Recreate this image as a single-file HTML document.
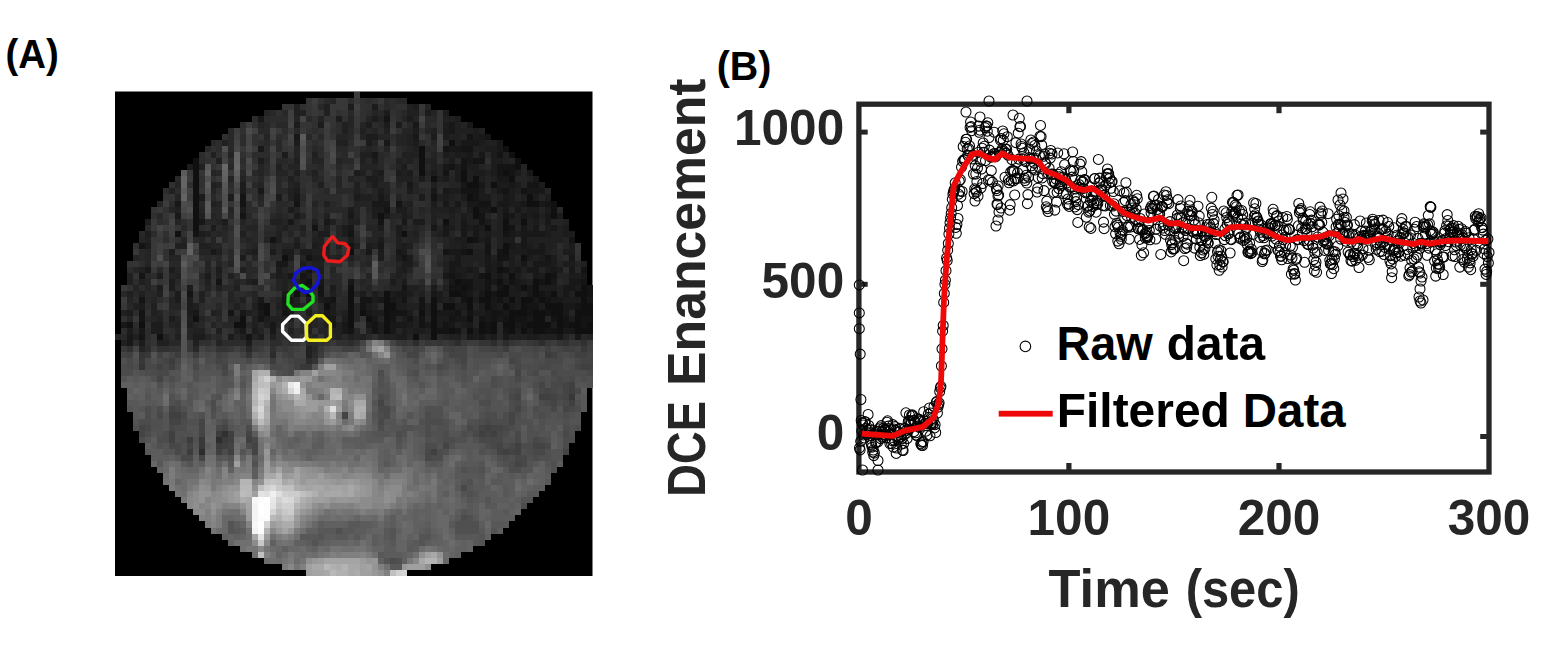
<!DOCTYPE html>
<html><head><meta charset="utf-8"><title>Figure</title>
<style>html,body{margin:0;padding:0;background:#fff;overflow:hidden}svg{display:block}text{font-family:"Liberation Sans",sans-serif;font-weight:bold}</style>
</head><body>
<svg width="1541" height="662" viewBox="0 0 1541 662">
<rect width="1541" height="662" fill="#fff"/>
<text x="5.5" y="67.6" font-size="40" fill="#000" font-family="Liberation Sans" font-weight="bold" textLength="53.3" lengthAdjust="spacingAndGlyphs">(A)</text><text x="716.7" y="79.6" font-size="40" fill="#000" font-family="Liberation Sans" font-weight="bold" textLength="54.7" lengthAdjust="spacingAndGlyphs">(B)</text>
<rect x="115.0" y="91.5" width="477.5" height="484.5" fill="#000"/>
<g transform="translate(115.0 91.5) scale(5.96875 6.05625)" shape-rendering="crispEdges">
<path fill="#101010" d="M56 8h1v1h-1zM51 9h1v1h-1zM65 9h1v1h-1zM51 10h1v1h-1zM66 10h1v1h-1zM13 11h1v1h-1zM51 11h1v1h-1zM67 11h1v1h-1zM13 12h1v1h-1zM51 12h1v1h-1zM67 12h1v1h-1zM13 13h1v1h-1zM51 13h1v1h-1zM58 13h1v1h-1zM65 13h1v1h-1zM13 14h1v1h-1zM53 14h1v1h-1zM58 14h1v1h-1zM60 14h1v1h-1zM66 14h1v1h-1zM13 15h1v1h-1zM59 15h2v1h-2zM63 15h1v1h-1zM13 16h1v1h-1zM13 17h1v1h-1zM59 17h1v1h-1zM69 17h1v1h-1zM13 18h1v1h-1zM69 18h2v1h-2zM73 18h1v1h-1zM13 19h1v1h-1zM60 19h1v1h-1zM63 19h1v1h-1zM73 19h1v1h-1zM13 20h1v1h-1zM44 20h1v1h-1zM60 20h1v1h-1zM73 20h1v1h-1zM13 21h1v1h-1zM55 21h1v1h-1zM65 21h1v1h-1zM68 21h1v1h-1zM13 22h1v1h-1zM62 22h1v1h-1zM65 22h1v1h-1zM10 23h1v1h-1zM48 23h1v1h-1zM59 24h1v1h-1zM65 25h1v1h-1zM39 26h1v1h-1zM59 26h1v1h-1zM65 26h1v1h-1zM28 27h1v1h-1zM68 27h1v1h-1zM64 29h1v1h-1zM62 30h1v1h-1zM66 30h1v1h-1zM72 30h1v1h-1zM32 31h1v1h-1zM57 31h1v1h-1zM64 31h1v1h-1zM70 31h1v1h-1zM72 31h1v1h-1zM39 32h1v1h-1zM58 32h1v1h-1zM65 32h1v1h-1zM68 32h1v1h-1zM70 32h1v1h-1zM78 32h1v1h-1zM30 33h1v1h-1zM32 33h1v1h-1zM39 33h1v1h-1zM45 33h1v1h-1zM56 33h2v1h-2zM62 33h1v1h-1zM64 33h2v1h-2zM70 33h1v1h-1zM73 33h1v1h-1zM77 33h2v1h-2zM39 34h1v1h-1zM45 34h1v1h-1zM53 34h1v1h-1zM59 34h1v1h-1zM61 34h2v1h-2zM66 34h1v1h-1zM68 34h2v1h-2zM71 34h1v1h-1zM78 34h1v1h-1zM25 35h1v1h-1zM35 35h1v1h-1zM39 35h1v1h-1zM45 35h2v1h-2zM53 35h1v1h-1zM55 35h2v1h-2zM59 35h1v1h-1zM62 35h1v1h-1zM65 35h1v1h-1zM68 35h1v1h-1zM72 35h3v1h-3zM78 35h2v1h-2zM25 36h1v1h-1zM39 36h1v1h-1zM41 36h1v1h-1zM45 36h1v1h-1zM51 36h1v1h-1zM53 36h1v1h-1zM66 36h3v1h-3zM70 36h2v1h-2zM73 36h2v1h-2zM77 36h3v1h-3zM13 37h1v1h-1zM21 37h1v1h-1zM39 37h1v1h-1zM42 37h1v1h-1zM45 37h1v1h-1zM53 37h1v1h-1zM59 37h1v1h-1zM66 37h1v1h-1zM70 37h2v1h-2zM74 37h1v1h-1zM77 37h1v1h-1zM2 38h1v1h-1zM4 38h1v1h-1zM20 38h2v1h-2zM39 38h1v1h-1zM45 38h1v1h-1zM53 38h1v1h-1zM61 38h1v1h-1zM63 38h1v1h-1zM65 38h2v1h-2zM69 38h4v1h-4zM74 38h1v1h-1zM76 38h2v1h-2zM79 38h1v1h-1zM45 39h1v1h-1zM53 39h1v1h-1zM56 39h1v1h-1zM59 39h1v1h-1zM61 39h1v1h-1zM63 39h1v1h-1zM66 39h1v1h-1zM68 39h1v1h-1zM70 39h2v1h-2zM74 39h1v1h-1zM77 39h3v1h-3zM7 40h1v1h-1zM50 40h1v1h-1zM53 40h1v1h-1z"/>
<path fill="#141414" d="M45 4h1v1h-1zM59 7h1v1h-1zM62 7h1v1h-1zM55 9h1v1h-1zM58 9h2v1h-2zM64 10h1v1h-1zM58 11h1v1h-1zM60 11h2v1h-2zM56 12h1v1h-1zM58 12h1v1h-1zM64 12h3v1h-3zM55 13h1v1h-1zM64 13h1v1h-1zM66 13h1v1h-1zM69 15h2v1h-2zM58 16h3v1h-3zM65 16h1v1h-1zM68 16h1v1h-1zM21 17h1v1h-1zM53 17h1v1h-1zM60 17h1v1h-1zM21 18h1v1h-1zM30 18h1v1h-1zM47 18h1v1h-1zM61 18h2v1h-2zM72 18h1v1h-1zM45 19h1v1h-1zM21 20h1v1h-1zM61 20h1v1h-1zM65 20h1v1h-1zM44 21h1v1h-1zM61 21h1v1h-1zM33 22h1v1h-1zM66 22h1v1h-1zM13 23h1v1h-1zM39 23h1v1h-1zM65 23h1v1h-1zM26 24h1v1h-1zM60 24h1v1h-1zM76 24h1v1h-1zM4 25h1v1h-1zM39 25h1v1h-1zM62 25h1v1h-1zM55 26h1v1h-1zM58 26h1v1h-1zM62 26h1v1h-1zM64 26h1v1h-1zM32 27h1v1h-1zM48 27h1v1h-1zM64 27h2v1h-2zM72 27h1v1h-1zM32 29h1v1h-1zM65 29h1v1h-1zM78 29h1v1h-1zM4 30h1v1h-1zM31 30h1v1h-1zM56 30h1v1h-1zM61 30h1v1h-1zM73 30h1v1h-1zM17 31h1v1h-1zM58 31h2v1h-2zM62 31h1v1h-1zM66 31h1v1h-1zM71 31h1v1h-1zM78 31h1v1h-1zM34 32h1v1h-1zM48 32h1v1h-1zM56 32h2v1h-2zM59 32h1v1h-1zM62 32h1v1h-1zM64 32h1v1h-1zM79 32h1v1h-1zM12 33h1v1h-1zM34 33h1v1h-1zM58 33h1v1h-1zM63 33h1v1h-1zM71 33h1v1h-1zM79 33h1v1h-1zM4 34h1v1h-1zM28 34h1v1h-1zM36 34h1v1h-1zM41 34h2v1h-2zM48 34h1v1h-1zM51 34h1v1h-1zM58 34h1v1h-1zM64 34h1v1h-1zM72 34h1v1h-1zM24 35h1v1h-1zM41 35h1v1h-1zM51 35h1v1h-1zM69 35h2v1h-2zM77 35h1v1h-1zM4 36h1v1h-1zM19 36h1v1h-1zM28 36h1v1h-1zM46 36h3v1h-3zM57 36h1v1h-1zM59 36h1v1h-1zM63 36h2v1h-2zM69 36h1v1h-1zM72 36h1v1h-1zM4 37h1v1h-1zM24 37h1v1h-1zM35 37h1v1h-1zM46 37h1v1h-1zM49 37h1v1h-1zM51 37h1v1h-1zM56 37h1v1h-1zM61 37h1v1h-1zM63 37h1v1h-1zM65 37h1v1h-1zM67 37h2v1h-2zM73 37h1v1h-1zM75 37h1v1h-1zM78 37h2v1h-2zM36 38h1v1h-1zM43 38h1v1h-1zM51 38h1v1h-1zM55 38h1v1h-1zM62 38h1v1h-1zM68 38h1v1h-1zM75 38h1v1h-1zM78 38h1v1h-1zM39 39h1v1h-1zM43 39h1v1h-1zM54 39h2v1h-2zM57 39h1v1h-1zM62 39h1v1h-1zM65 39h1v1h-1zM72 39h2v1h-2zM4 40h1v1h-1zM22 40h1v1h-1z"/>
<path fill="#181818" d="M24 4h1v1h-1zM50 5h1v1h-1zM56 5h1v1h-1zM59 5h1v1h-1zM56 6h1v1h-1zM30 7h1v1h-1zM50 7h1v1h-1zM61 7h1v1h-1zM45 8h1v1h-1zM58 8h3v1h-3zM64 8h1v1h-1zM24 9h1v1h-1zM56 9h2v1h-2zM64 9h1v1h-1zM43 10h1v1h-1zM59 10h1v1h-1zM61 10h1v1h-1zM59 11h1v1h-1zM55 12h1v1h-1zM69 13h1v1h-1zM64 14h2v1h-2zM70 14h1v1h-1zM49 15h1v1h-1zM58 15h1v1h-1zM61 15h1v1h-1zM66 15h1v1h-1zM24 16h1v1h-1zM53 16h1v1h-1zM55 16h1v1h-1zM64 16h1v1h-1zM69 16h3v1h-3zM30 17h1v1h-1zM44 17h1v1h-1zM65 17h1v1h-1zM10 18h1v1h-1zM43 18h3v1h-3zM55 18h1v1h-1zM57 18h1v1h-1zM59 18h2v1h-2zM64 18h2v1h-2zM68 18h1v1h-1zM71 18h1v1h-1zM61 19h2v1h-2zM65 19h1v1h-1zM67 19h1v1h-1zM10 20h1v1h-1zM39 20h1v1h-1zM66 20h1v1h-1zM68 20h1v1h-1zM70 20h1v1h-1zM72 20h1v1h-1zM14 21h1v1h-1zM29 21h1v1h-1zM35 21h1v1h-1zM48 21h1v1h-1zM58 21h1v1h-1zM72 21h1v1h-1zM39 22h1v1h-1zM53 22h1v1h-1zM55 22h1v1h-1zM58 22h1v1h-1zM60 22h1v1h-1zM68 22h1v1h-1zM70 22h1v1h-1zM73 22h1v1h-1zM55 23h1v1h-1zM58 23h1v1h-1zM60 23h1v1h-1zM66 23h1v1h-1zM68 23h4v1h-4zM62 24h1v1h-1zM68 24h1v1h-1zM44 25h1v1h-1zM66 25h1v1h-1zM68 25h1v1h-1zM71 25h1v1h-1zM16 26h1v1h-1zM42 26h1v1h-1zM47 26h1v1h-1zM56 26h2v1h-2zM69 26h3v1h-3zM57 27h1v1h-1zM62 27h1v1h-1zM76 27h1v1h-1zM27 28h2v1h-2zM56 28h2v1h-2zM62 28h1v1h-1zM64 28h1v1h-1zM68 28h1v1h-1zM70 28h3v1h-3zM5 29h1v1h-1zM56 29h1v1h-1zM59 29h1v1h-1zM62 29h1v1h-1zM67 29h1v1h-1zM69 29h2v1h-2zM73 29h1v1h-1zM76 29h1v1h-1zM29 30h1v1h-1zM55 30h1v1h-1zM57 30h1v1h-1zM64 30h1v1h-1zM70 30h1v1h-1zM78 30h1v1h-1zM31 31h1v1h-1zM34 31h1v1h-1zM39 31h1v1h-1zM56 31h1v1h-1zM63 31h1v1h-1zM67 31h1v1h-1zM73 31h1v1h-1zM76 31h2v1h-2zM32 32h1v1h-1zM67 32h1v1h-1zM69 32h1v1h-1zM75 32h2v1h-2zM28 33h1v1h-1zM47 33h2v1h-2zM53 33h1v1h-1zM59 33h1v1h-1zM61 33h1v1h-1zM69 33h1v1h-1zM72 33h1v1h-1zM75 33h1v1h-1zM24 34h1v1h-1zM29 34h1v1h-1zM35 34h1v1h-1zM44 34h1v1h-1zM46 34h1v1h-1zM63 34h1v1h-1zM70 34h1v1h-1zM73 34h2v1h-2zM79 34h1v1h-1zM28 35h1v1h-1zM63 35h1v1h-1zM66 35h1v1h-1zM75 35h2v1h-2zM13 36h1v1h-1zM21 36h1v1h-1zM24 36h1v1h-1zM29 36h1v1h-1zM35 36h1v1h-1zM42 36h1v1h-1zM54 36h3v1h-3zM62 36h1v1h-1zM65 36h1v1h-1zM75 36h1v1h-1zM36 37h1v1h-1zM43 37h1v1h-1zM57 37h2v1h-2zM62 37h1v1h-1zM64 37h1v1h-1zM69 37h1v1h-1zM1 38h1v1h-1zM26 38h1v1h-1zM38 38h1v1h-1zM42 38h1v1h-1zM46 38h3v1h-3zM52 38h1v1h-1zM56 38h1v1h-1zM59 38h1v1h-1zM67 38h1v1h-1zM4 39h1v1h-1zM21 39h1v1h-1zM26 39h1v1h-1zM38 39h1v1h-1zM46 39h1v1h-1zM69 39h1v1h-1zM75 39h2v1h-2zM2 40h1v1h-1zM59 40h1v1h-1zM61 40h1v1h-1zM65 40h1v1h-1zM74 40h1v1h-1zM77 40h1v1h-1zM2 41h1v1h-1z"/>
<path fill="#1c1c1c" d="M39 2h1v1h-1zM43 2h1v1h-1zM50 2h1v1h-1zM45 3h1v1h-1zM52 3h1v1h-1zM55 3h1v1h-1zM37 4h1v1h-1zM43 4h1v1h-1zM49 4h1v1h-1zM57 4h1v1h-1zM30 5h1v1h-1zM34 5h1v1h-1zM42 5h1v1h-1zM45 5h1v1h-1zM47 5h1v1h-1zM55 5h1v1h-1zM50 6h1v1h-1zM55 6h1v1h-1zM60 6h1v1h-1zM42 7h2v1h-2zM53 7h1v1h-1zM55 7h1v1h-1zM60 7h1v1h-1zM30 8h1v1h-1zM42 8h1v1h-1zM50 8h1v1h-1zM61 8h1v1h-1zM62 9h2v1h-2zM28 10h1v1h-1zM55 10h1v1h-1zM57 10h2v1h-2zM63 10h1v1h-1zM24 11h1v1h-1zM43 11h1v1h-1zM56 11h1v1h-1zM63 11h2v1h-2zM12 12h1v1h-1zM48 12h1v1h-1zM57 12h1v1h-1zM59 12h2v1h-2zM63 12h1v1h-1zM40 13h1v1h-1zM44 13h1v1h-1zM47 13h1v1h-1zM49 13h1v1h-1zM53 13h1v1h-1zM57 13h1v1h-1zM60 13h2v1h-2zM63 13h1v1h-1zM67 13h1v1h-1zM42 14h2v1h-2zM51 14h1v1h-1zM55 14h1v1h-1zM57 14h1v1h-1zM21 15h1v1h-1zM43 15h1v1h-1zM64 15h2v1h-2zM67 15h1v1h-1zM71 15h1v1h-1zM21 16h1v1h-1zM30 16h1v1h-1zM44 16h1v1h-1zM49 16h1v1h-1zM56 16h2v1h-2zM61 16h1v1h-1zM66 16h1v1h-1zM14 17h1v1h-1zM19 17h1v1h-1zM27 17h1v1h-1zM40 17h1v1h-1zM51 17h1v1h-1zM55 17h1v1h-1zM58 17h1v1h-1zM61 17h2v1h-2zM66 17h1v1h-1zM70 17h1v1h-1zM72 17h1v1h-1zM53 18h1v1h-1zM66 18h2v1h-2zM21 19h1v1h-1zM29 19h1v1h-1zM39 19h1v1h-1zM43 19h2v1h-2zM47 19h2v1h-2zM56 19h1v1h-1zM59 19h1v1h-1zM69 19h2v1h-2zM72 19h1v1h-1zM30 20h1v1h-1zM43 20h1v1h-1zM45 20h1v1h-1zM48 20h1v1h-1zM58 20h1v1h-1zM69 20h1v1h-1zM74 20h1v1h-1zM5 21h1v1h-1zM18 21h1v1h-1zM50 21h2v1h-2zM62 21h1v1h-1zM70 21h1v1h-1zM16 22h1v1h-1zM38 22h1v1h-1zM44 22h1v1h-1zM47 22h1v1h-1zM56 22h1v1h-1zM59 22h1v1h-1zM61 22h1v1h-1zM72 22h1v1h-1zM75 22h1v1h-1zM5 23h1v1h-1zM14 23h1v1h-1zM34 23h2v1h-2zM38 23h1v1h-1zM47 23h1v1h-1zM62 23h1v1h-1zM67 23h1v1h-1zM72 23h1v1h-1zM75 23h2v1h-2zM39 24h1v1h-1zM44 24h1v1h-1zM57 24h2v1h-2zM61 24h1v1h-1zM65 24h2v1h-2zM5 25h1v1h-1zM30 25h1v1h-1zM33 25h1v1h-1zM42 25h1v1h-1zM48 25h1v1h-1zM58 25h1v1h-1zM67 25h1v1h-1zM69 25h1v1h-1zM76 25h1v1h-1zM9 26h1v1h-1zM23 26h1v1h-1zM26 26h1v1h-1zM28 26h2v1h-2zM31 26h2v1h-2zM44 26h1v1h-1zM48 26h1v1h-1zM66 26h3v1h-3zM75 26h2v1h-2zM21 27h1v1h-1zM29 27h1v1h-1zM33 27h2v1h-2zM44 27h1v1h-1zM47 27h1v1h-1zM49 27h1v1h-1zM66 27h1v1h-1zM69 27h1v1h-1zM71 27h1v1h-1zM73 27h1v1h-1zM31 28h1v1h-1zM48 28h2v1h-2zM63 28h1v1h-1zM66 28h1v1h-1zM73 28h1v1h-1zM75 28h2v1h-2zM9 29h1v1h-1zM17 29h1v1h-1zM27 29h1v1h-1zM34 29h1v1h-1zM48 29h1v1h-1zM57 29h2v1h-2zM60 29h1v1h-1zM63 29h1v1h-1zM66 29h1v1h-1zM72 29h1v1h-1zM74 29h1v1h-1zM7 30h1v1h-1zM15 30h1v1h-1zM27 30h1v1h-1zM32 30h1v1h-1zM58 30h1v1h-1zM60 30h1v1h-1zM63 30h1v1h-1zM67 30h1v1h-1zM71 30h1v1h-1zM76 30h2v1h-2zM9 31h1v1h-1zM23 31h1v1h-1zM46 31h1v1h-1zM48 31h1v1h-1zM60 31h2v1h-2zM65 31h1v1h-1zM68 31h1v1h-1zM7 32h1v1h-1zM9 32h1v1h-1zM12 32h1v1h-1zM30 32h2v1h-2zM36 32h1v1h-1zM53 32h1v1h-1zM60 32h2v1h-2zM66 32h1v1h-1zM71 32h3v1h-3zM77 32h1v1h-1zM10 33h1v1h-1zM41 33h1v1h-1zM43 33h1v1h-1zM46 33h1v1h-1zM49 33h1v1h-1zM54 33h1v1h-1zM66 33h2v1h-2zM10 34h1v1h-1zM12 34h1v1h-1zM32 34h1v1h-1zM34 34h1v1h-1zM43 34h1v1h-1zM47 34h1v1h-1zM54 34h1v1h-1zM56 34h1v1h-1zM60 34h1v1h-1zM65 34h1v1h-1zM67 34h1v1h-1zM75 34h3v1h-3zM4 35h1v1h-1zM12 35h1v1h-1zM29 35h2v1h-2zM36 35h1v1h-1zM42 35h1v1h-1zM47 35h2v1h-2zM57 35h2v1h-2zM61 35h1v1h-1zM64 35h1v1h-1zM67 35h1v1h-1zM71 35h1v1h-1zM2 36h1v1h-1zM12 36h1v1h-1zM32 36h1v1h-1zM36 36h1v1h-1zM43 36h2v1h-2zM49 36h1v1h-1zM60 36h2v1h-2zM9 37h1v1h-1zM25 37h1v1h-1zM38 37h1v1h-1zM48 37h1v1h-1zM54 37h2v1h-2zM76 37h1v1h-1zM6 38h2v1h-2zM12 38h1v1h-1zM44 38h1v1h-1zM49 38h1v1h-1zM54 38h1v1h-1zM58 38h1v1h-1zM73 38h1v1h-1zM2 39h1v1h-1zM6 39h2v1h-2zM23 39h1v1h-1zM44 39h1v1h-1zM48 39h1v1h-1zM50 39h2v1h-2zM60 39h1v1h-1zM67 39h1v1h-1zM13 40h2v1h-2zM19 40h1v1h-1zM24 40h1v1h-1zM47 40h2v1h-2zM60 40h1v1h-1zM63 40h1v1h-1zM69 40h2v1h-2zM4 41h1v1h-1zM22 41h1v1h-1z"/>
<path fill="#202020" d="M30 2h1v1h-1zM35 2h1v1h-1zM49 2h1v1h-1zM30 3h2v1h-2zM35 3h1v1h-1zM49 3h2v1h-2zM55 4h2v1h-2zM38 5h1v1h-1zM57 5h1v1h-1zM38 6h1v1h-1zM41 6h1v1h-1zM45 6h1v1h-1zM53 6h1v1h-1zM57 6h3v1h-3zM61 6h1v1h-1zM49 7h1v1h-1zM56 7h2v1h-2zM18 8h1v1h-1zM37 8h2v1h-2zM49 8h1v1h-1zM57 8h1v1h-1zM62 8h2v1h-2zM50 9h1v1h-1zM60 9h2v1h-2zM16 10h1v1h-1zM33 10h1v1h-1zM41 10h2v1h-2zM48 10h3v1h-3zM56 10h1v1h-1zM65 10h1v1h-1zM17 11h1v1h-1zM30 11h1v1h-1zM41 11h1v1h-1zM47 11h1v1h-1zM49 11h1v1h-1zM53 11h1v1h-1zM65 11h1v1h-1zM14 12h1v1h-1zM27 12h1v1h-1zM53 12h1v1h-1zM30 13h1v1h-1zM33 13h1v1h-1zM41 13h1v1h-1zM43 13h1v1h-1zM48 13h1v1h-1zM59 13h1v1h-1zM62 13h1v1h-1zM29 14h1v1h-1zM44 14h1v1h-1zM47 14h3v1h-3zM54 14h1v1h-1zM59 14h1v1h-1zM61 14h1v1h-1zM63 14h1v1h-1zM69 14h1v1h-1zM16 15h1v1h-1zM30 15h1v1h-1zM34 15h1v1h-1zM40 15h1v1h-1zM53 15h1v1h-1zM9 16h1v1h-1zM29 16h1v1h-1zM40 16h1v1h-1zM63 16h1v1h-1zM67 16h1v1h-1zM29 17h1v1h-1zM41 17h2v1h-2zM45 17h1v1h-1zM54 17h1v1h-1zM56 17h1v1h-1zM64 17h1v1h-1zM68 17h1v1h-1zM16 18h1v1h-1zM35 18h1v1h-1zM49 18h1v1h-1zM10 19h1v1h-1zM53 19h3v1h-3zM57 19h1v1h-1zM64 19h1v1h-1zM68 19h1v1h-1zM14 20h1v1h-1zM35 20h1v1h-1zM49 20h1v1h-1zM53 20h1v1h-1zM56 20h1v1h-1zM59 20h1v1h-1zM64 20h1v1h-1zM67 20h1v1h-1zM71 20h1v1h-1zM26 21h2v1h-2zM33 21h1v1h-1zM36 21h1v1h-1zM39 21h2v1h-2zM53 21h1v1h-1zM56 21h1v1h-1zM59 21h2v1h-2zM64 21h1v1h-1zM66 21h2v1h-2zM69 21h1v1h-1zM75 21h1v1h-1zM28 22h1v1h-1zM31 22h1v1h-1zM35 22h1v1h-1zM64 22h1v1h-1zM69 22h1v1h-1zM74 22h1v1h-1zM15 23h1v1h-1zM21 23h1v1h-1zM27 23h1v1h-1zM50 23h1v1h-1zM54 23h1v1h-1zM61 23h1v1h-1zM63 23h2v1h-2zM73 23h2v1h-2zM5 24h1v1h-1zM27 24h1v1h-1zM30 24h1v1h-1zM33 24h2v1h-2zM47 24h1v1h-1zM56 24h1v1h-1zM64 24h1v1h-1zM69 24h6v1h-6zM10 25h2v1h-2zM14 25h2v1h-2zM34 25h2v1h-2zM37 25h1v1h-1zM40 25h1v1h-1zM43 25h1v1h-1zM47 25h1v1h-1zM49 25h1v1h-1zM56 25h2v1h-2zM59 25h1v1h-1zM64 25h1v1h-1zM70 25h1v1h-1zM72 25h2v1h-2zM17 26h1v1h-1zM22 26h1v1h-1zM33 26h3v1h-3zM60 26h2v1h-2zM72 26h1v1h-1zM35 27h1v1h-1zM37 27h1v1h-1zM39 27h1v1h-1zM56 27h1v1h-1zM58 27h4v1h-4zM63 27h1v1h-1zM70 27h1v1h-1zM33 28h2v1h-2zM55 28h1v1h-1zM58 28h2v1h-2zM61 28h1v1h-1zM67 28h1v1h-1zM78 28h1v1h-1zM4 29h1v1h-1zM21 29h1v1h-1zM31 29h1v1h-1zM47 29h1v1h-1zM55 29h1v1h-1zM68 29h1v1h-1zM2 30h1v1h-1zM10 30h1v1h-1zM17 30h1v1h-1zM19 30h1v1h-1zM28 30h1v1h-1zM34 30h1v1h-1zM47 30h1v1h-1zM59 30h1v1h-1zM65 30h1v1h-1zM2 31h1v1h-1zM4 31h1v1h-1zM15 31h1v1h-1zM22 31h1v1h-1zM28 31h1v1h-1zM69 31h1v1h-1zM17 32h1v1h-1zM20 32h1v1h-1zM28 32h1v1h-1zM49 32h2v1h-2zM55 32h1v1h-1zM74 32h1v1h-1zM2 33h1v1h-1zM4 33h1v1h-1zM7 33h1v1h-1zM14 33h1v1h-1zM36 33h1v1h-1zM51 33h1v1h-1zM60 33h1v1h-1zM68 33h1v1h-1zM74 33h1v1h-1zM76 33h1v1h-1zM14 34h1v1h-1zM21 34h1v1h-1zM30 34h1v1h-1zM55 34h1v1h-1zM3 35h1v1h-1zM6 35h1v1h-1zM13 35h1v1h-1zM20 35h1v1h-1zM23 35h1v1h-1zM27 35h1v1h-1zM43 35h1v1h-1zM49 35h2v1h-2zM52 35h1v1h-1zM1 36h1v1h-1zM6 36h1v1h-1zM16 36h1v1h-1zM22 36h1v1h-1zM38 36h1v1h-1zM52 36h1v1h-1zM58 36h1v1h-1zM7 37h1v1h-1zM12 37h1v1h-1zM23 37h1v1h-1zM26 37h4v1h-4zM50 37h1v1h-1zM10 38h1v1h-1zM23 38h1v1h-1zM25 38h1v1h-1zM32 38h1v1h-1zM35 38h1v1h-1zM37 38h1v1h-1zM50 38h1v1h-1zM57 38h1v1h-1zM13 39h2v1h-2zM17 39h1v1h-1zM20 39h1v1h-1zM29 39h1v1h-1zM32 39h1v1h-1zM36 39h2v1h-2zM42 39h1v1h-1zM49 39h1v1h-1zM52 39h1v1h-1zM3 40h1v1h-1zM10 40h1v1h-1zM21 40h1v1h-1zM26 40h1v1h-1zM37 40h1v1h-1zM39 40h1v1h-1zM41 40h1v1h-1zM45 40h2v1h-2zM56 40h2v1h-2zM62 40h1v1h-1zM66 40h3v1h-3zM71 40h3v1h-3zM1 41h1v1h-1zM7 41h2v1h-2zM13 41h1v1h-1zM32 42h1v1h-1zM32 43h1v1h-1z"/>
<path fill="#242424" d="M36 1h1v1h-1zM52 2h1v1h-1zM25 3h1v1h-1zM43 3h1v1h-1zM53 3h1v1h-1zM30 4h1v1h-1zM34 4h1v1h-1zM39 4h1v1h-1zM42 4h1v1h-1zM44 4h1v1h-1zM48 4h1v1h-1zM50 4h1v1h-1zM24 5h1v1h-1zM39 5h1v1h-1zM41 5h1v1h-1zM58 5h1v1h-1zM43 6h1v1h-1zM48 6h2v1h-2zM52 6h1v1h-1zM25 7h1v1h-1zM37 7h2v1h-2zM41 7h1v1h-1zM44 7h2v1h-2zM47 7h2v1h-2zM58 7h1v1h-1zM43 8h1v1h-1zM47 8h2v1h-2zM53 8h1v1h-1zM30 9h1v1h-1zM42 9h1v1h-1zM45 9h1v1h-1zM49 9h1v1h-1zM19 10h1v1h-1zM30 10h1v1h-1zM53 10h1v1h-1zM60 10h1v1h-1zM33 11h2v1h-2zM37 11h1v1h-1zM48 11h1v1h-1zM52 11h1v1h-1zM55 11h1v1h-1zM66 11h1v1h-1zM24 12h1v1h-1zM29 12h2v1h-2zM41 12h3v1h-3zM47 12h1v1h-1zM54 12h1v1h-1zM61 12h1v1h-1zM68 12h1v1h-1zM16 13h1v1h-1zM24 13h1v1h-1zM27 13h2v1h-2zM52 13h1v1h-1zM54 13h1v1h-1zM68 13h1v1h-1zM19 14h1v1h-1zM21 14h1v1h-1zM33 14h1v1h-1zM37 14h1v1h-1zM39 14h1v1h-1zM56 14h1v1h-1zM62 14h1v1h-1zM67 14h2v1h-2zM10 15h1v1h-1zM17 15h1v1h-1zM24 15h1v1h-1zM29 15h1v1h-1zM37 15h1v1h-1zM42 15h1v1h-1zM44 15h2v1h-2zM47 15h1v1h-1zM50 15h1v1h-1zM56 15h2v1h-2zM62 15h1v1h-1zM68 15h1v1h-1zM16 16h1v1h-1zM43 16h1v1h-1zM45 16h1v1h-1zM50 16h1v1h-1zM72 16h1v1h-1zM10 17h1v1h-1zM24 17h1v1h-1zM43 17h1v1h-1zM47 17h1v1h-1zM57 17h1v1h-1zM63 17h1v1h-1zM67 17h1v1h-1zM71 17h1v1h-1zM7 18h1v1h-1zM17 18h1v1h-1zM33 18h1v1h-1zM40 18h3v1h-3zM48 18h1v1h-1zM56 18h1v1h-1zM58 18h1v1h-1zM63 18h1v1h-1zM9 19h1v1h-1zM14 19h1v1h-1zM19 19h1v1h-1zM30 19h1v1h-1zM40 19h1v1h-1zM42 19h1v1h-1zM49 19h1v1h-1zM51 19h1v1h-1zM66 19h1v1h-1zM71 19h1v1h-1zM16 20h1v1h-1zM27 20h1v1h-1zM31 20h1v1h-1zM40 20h1v1h-1zM46 20h2v1h-2zM54 20h2v1h-2zM57 20h1v1h-1zM62 20h1v1h-1zM10 21h1v1h-1zM17 21h1v1h-1zM21 21h1v1h-1zM28 21h1v1h-1zM57 21h1v1h-1zM63 21h1v1h-1zM71 21h1v1h-1zM73 21h2v1h-2zM18 22h1v1h-1zM22 22h2v1h-2zM27 22h1v1h-1zM37 22h1v1h-1zM42 22h2v1h-2zM48 22h1v1h-1zM50 22h1v1h-1zM54 22h1v1h-1zM57 22h1v1h-1zM63 22h1v1h-1zM67 22h1v1h-1zM17 23h1v1h-1zM29 23h1v1h-1zM31 23h1v1h-1zM33 23h1v1h-1zM37 23h1v1h-1zM43 23h2v1h-2zM49 23h1v1h-1zM53 23h1v1h-1zM56 23h1v1h-1zM59 23h1v1h-1zM4 24h1v1h-1zM11 24h1v1h-1zM14 24h1v1h-1zM16 24h1v1h-1zM22 24h1v1h-1zM25 24h1v1h-1zM42 24h2v1h-2zM49 24h2v1h-2zM55 24h1v1h-1zM75 24h1v1h-1zM16 25h2v1h-2zM23 25h1v1h-1zM26 25h1v1h-1zM28 25h2v1h-2zM55 25h1v1h-1zM60 25h2v1h-2zM75 25h1v1h-1zM5 26h1v1h-1zM14 26h2v1h-2zM73 26h1v1h-1zM3 27h1v1h-1zM5 27h1v1h-1zM9 27h2v1h-2zM23 27h1v1h-1zM31 27h1v1h-1zM36 27h1v1h-1zM55 27h1v1h-1zM67 27h1v1h-1zM5 28h1v1h-1zM15 28h1v1h-1zM17 28h1v1h-1zM19 28h1v1h-1zM32 28h1v1h-1zM42 28h1v1h-1zM47 28h1v1h-1zM60 28h1v1h-1zM65 28h1v1h-1zM69 28h1v1h-1zM74 28h1v1h-1zM77 28h1v1h-1zM3 29h1v1h-1zM10 29h1v1h-1zM15 29h1v1h-1zM28 29h1v1h-1zM33 29h1v1h-1zM36 29h1v1h-1zM49 29h1v1h-1zM71 29h1v1h-1zM9 30h1v1h-1zM26 30h1v1h-1zM42 30h1v1h-1zM46 30h1v1h-1zM48 30h1v1h-1zM68 30h1v1h-1zM74 30h2v1h-2zM5 31h1v1h-1zM20 31h1v1h-1zM27 31h1v1h-1zM29 31h2v1h-2zM41 31h1v1h-1zM47 31h1v1h-1zM55 31h1v1h-1zM75 31h1v1h-1zM3 32h1v1h-1zM5 32h1v1h-1zM15 32h1v1h-1zM27 32h1v1h-1zM42 32h1v1h-1zM46 32h2v1h-2zM51 32h1v1h-1zM63 32h1v1h-1zM19 33h1v1h-1zM23 33h1v1h-1zM29 33h1v1h-1zM40 33h1v1h-1zM44 33h1v1h-1zM50 33h1v1h-1zM55 33h1v1h-1zM2 34h1v1h-1zM6 34h1v1h-1zM9 34h1v1h-1zM19 34h1v1h-1zM23 34h1v1h-1zM27 34h1v1h-1zM49 34h1v1h-1zM57 34h1v1h-1zM9 35h2v1h-2zM31 35h1v1h-1zM40 35h1v1h-1zM60 35h1v1h-1zM7 36h1v1h-1zM17 36h1v1h-1zM23 36h1v1h-1zM27 36h1v1h-1zM37 36h1v1h-1zM40 36h1v1h-1zM76 36h1v1h-1zM2 37h1v1h-1zM6 37h1v1h-1zM10 37h1v1h-1zM14 37h1v1h-1zM19 37h2v1h-2zM33 37h1v1h-1zM40 37h1v1h-1zM44 37h1v1h-1zM47 37h1v1h-1zM52 37h1v1h-1zM60 37h1v1h-1zM72 37h1v1h-1zM9 38h1v1h-1zM13 38h1v1h-1zM16 38h1v1h-1zM27 38h1v1h-1zM33 38h1v1h-1zM60 38h1v1h-1zM10 39h1v1h-1zM12 39h1v1h-1zM24 39h1v1h-1zM34 39h2v1h-2zM40 39h1v1h-1zM47 39h1v1h-1zM58 39h1v1h-1zM0 40h1v1h-1zM8 40h1v1h-1zM12 40h1v1h-1zM15 40h1v1h-1zM23 40h1v1h-1zM33 40h1v1h-1zM35 40h2v1h-2zM40 40h1v1h-1zM44 40h1v1h-1zM49 40h1v1h-1zM52 40h1v1h-1zM55 40h1v1h-1zM75 40h1v1h-1zM79 40h1v1h-1zM17 41h1v1h-1zM4 42h1v1h-1z"/>
<path fill="#282828" d="M35 1h1v1h-1zM45 1h1v1h-1zM47 1h2v1h-2zM34 2h1v1h-1zM45 2h1v1h-1zM26 3h1v1h-1zM28 3h1v1h-1zM39 3h1v1h-1zM44 3h1v1h-1zM48 3h1v1h-1zM32 4h1v1h-1zM52 4h2v1h-2zM25 5h1v1h-1zM27 5h2v1h-2zM44 5h1v1h-1zM49 5h1v1h-1zM52 5h1v1h-1zM19 6h1v1h-1zM24 6h2v1h-2zM30 6h1v1h-1zM39 6h1v1h-1zM42 6h1v1h-1zM19 7h1v1h-1zM32 7h1v1h-1zM34 7h1v1h-1zM39 7h1v1h-1zM16 8h1v1h-1zM19 8h1v1h-1zM25 8h1v1h-1zM27 8h1v1h-1zM51 8h1v1h-1zM55 8h1v1h-1zM15 9h1v1h-1zM19 9h1v1h-1zM27 9h1v1h-1zM33 9h1v1h-1zM37 9h2v1h-2zM41 9h1v1h-1zM43 9h1v1h-1zM48 9h1v1h-1zM52 9h2v1h-2zM38 10h1v1h-1zM44 10h1v1h-1zM62 10h1v1h-1zM25 11h1v1h-1zM27 11h2v1h-2zM38 11h2v1h-2zM42 11h1v1h-1zM44 11h1v1h-1zM50 11h1v1h-1zM57 11h1v1h-1zM19 12h1v1h-1zM34 12h1v1h-1zM37 12h1v1h-1zM44 12h1v1h-1zM50 12h1v1h-1zM52 12h1v1h-1zM62 12h1v1h-1zM17 13h1v1h-1zM21 13h1v1h-1zM23 13h1v1h-1zM32 13h1v1h-1zM56 13h1v1h-1zM10 14h1v1h-1zM24 14h1v1h-1zM27 14h1v1h-1zM30 14h1v1h-1zM34 14h1v1h-1zM40 14h2v1h-2zM50 14h1v1h-1zM52 14h1v1h-1zM23 15h1v1h-1zM27 15h1v1h-1zM54 15h2v1h-2zM27 16h2v1h-2zM35 16h1v1h-1zM37 16h3v1h-3zM41 16h1v1h-1zM51 16h1v1h-1zM62 16h1v1h-1zM16 17h1v1h-1zM31 17h1v1h-1zM49 17h1v1h-1zM14 18h1v1h-1zM24 18h1v1h-1zM27 18h2v1h-2zM36 18h1v1h-1zM54 18h1v1h-1zM16 19h2v1h-2zM27 19h1v1h-1zM33 19h1v1h-1zM35 19h4v1h-4zM52 19h1v1h-1zM58 19h1v1h-1zM74 19h1v1h-1zM7 20h1v1h-1zM17 20h1v1h-1zM19 20h1v1h-1zM22 20h1v1h-1zM26 20h1v1h-1zM28 20h1v1h-1zM33 20h1v1h-1zM38 20h1v1h-1zM42 20h1v1h-1zM51 20h1v1h-1zM15 21h2v1h-2zM23 21h1v1h-1zM30 21h1v1h-1zM38 21h1v1h-1zM42 21h2v1h-2zM46 21h1v1h-1zM5 22h1v1h-1zM11 22h1v1h-1zM21 22h1v1h-1zM29 22h2v1h-2zM46 22h1v1h-1zM49 22h1v1h-1zM51 22h1v1h-1zM71 22h1v1h-1zM4 23h1v1h-1zM16 23h1v1h-1zM18 23h1v1h-1zM23 23h1v1h-1zM25 23h2v1h-2zM13 24h1v1h-1zM18 24h1v1h-1zM21 24h1v1h-1zM23 24h1v1h-1zM37 24h2v1h-2zM40 24h1v1h-1zM48 24h1v1h-1zM54 24h1v1h-1zM63 24h1v1h-1zM22 25h1v1h-1zM27 25h1v1h-1zM31 25h1v1h-1zM63 25h1v1h-1zM4 26h1v1h-1zM19 26h1v1h-1zM21 26h1v1h-1zM27 26h1v1h-1zM37 26h1v1h-1zM41 26h1v1h-1zM74 26h1v1h-1zM4 27h1v1h-1zM15 27h1v1h-1zM17 27h1v1h-1zM19 27h1v1h-1zM40 27h1v1h-1zM42 27h1v1h-1zM74 27h1v1h-1zM9 28h2v1h-2zM22 28h1v1h-1zM29 28h1v1h-1zM39 28h1v1h-1zM41 28h1v1h-1zM50 28h1v1h-1zM54 28h1v1h-1zM7 29h1v1h-1zM22 29h2v1h-2zM29 29h1v1h-1zM77 29h1v1h-1zM5 30h1v1h-1zM14 30h1v1h-1zM22 30h1v1h-1zM36 30h2v1h-2zM69 30h1v1h-1zM10 31h1v1h-1zM21 31h1v1h-1zM36 31h2v1h-2zM42 31h1v1h-1zM51 31h1v1h-1zM53 31h1v1h-1zM74 31h1v1h-1zM18 32h2v1h-2zM29 32h1v1h-1zM33 32h1v1h-1zM37 32h1v1h-1zM41 32h1v1h-1zM45 32h1v1h-1zM1 33h1v1h-1zM3 33h1v1h-1zM5 33h2v1h-2zM22 33h1v1h-1zM31 33h1v1h-1zM37 33h1v1h-1zM42 33h1v1h-1zM5 34h1v1h-1zM20 34h1v1h-1zM26 34h1v1h-1zM38 34h1v1h-1zM50 34h1v1h-1zM2 35h1v1h-1zM17 35h1v1h-1zM19 35h1v1h-1zM21 35h1v1h-1zM32 35h1v1h-1zM34 35h1v1h-1zM37 35h2v1h-2zM54 35h1v1h-1zM9 36h1v1h-1zM34 36h1v1h-1zM50 36h1v1h-1zM5 37h1v1h-1zM17 37h1v1h-1zM32 37h1v1h-1zM14 38h1v1h-1zM18 38h2v1h-2zM22 38h1v1h-1zM24 38h1v1h-1zM29 38h1v1h-1zM34 38h1v1h-1zM64 38h1v1h-1zM3 39h1v1h-1zM31 39h1v1h-1zM64 39h1v1h-1zM1 40h1v1h-1zM17 40h1v1h-1zM20 40h1v1h-1zM29 40h1v1h-1zM32 40h1v1h-1zM38 40h1v1h-1zM42 40h1v1h-1zM51 40h1v1h-1zM54 40h1v1h-1zM58 40h1v1h-1zM64 40h1v1h-1zM78 40h1v1h-1zM9 41h2v1h-2zM32 41h1v1h-1zM13 42h1v1h-1zM22 42h1v1h-1zM33 42h1v1h-1z"/>
<path fill="#2c2c2c" d="M39 1h1v1h-1zM42 1h1v1h-1zM46 1h1v1h-1zM46 2h1v1h-1zM42 3h1v1h-1zM47 3h1v1h-1zM23 4h1v1h-1zM25 4h4v1h-4zM47 4h1v1h-1zM21 5h1v1h-1zM37 5h1v1h-1zM43 5h1v1h-1zM53 5h1v1h-1zM28 6h1v1h-1zM33 6h1v1h-1zM37 6h1v1h-1zM44 6h1v1h-1zM21 7h1v1h-1zM27 7h1v1h-1zM46 7h1v1h-1zM17 8h1v1h-1zM21 8h1v1h-1zM24 8h1v1h-1zM33 8h1v1h-1zM39 8h1v1h-1zM17 9h1v1h-1zM25 9h1v1h-1zM34 9h1v1h-1zM47 9h1v1h-1zM14 10h1v1h-1zM23 10h3v1h-3zM34 10h1v1h-1zM37 10h1v1h-1zM45 10h1v1h-1zM47 10h1v1h-1zM52 10h1v1h-1zM54 10h1v1h-1zM14 11h1v1h-1zM19 11h1v1h-1zM21 11h1v1h-1zM29 11h1v1h-1zM25 12h1v1h-1zM28 12h1v1h-1zM32 12h2v1h-2zM39 12h1v1h-1zM46 12h1v1h-1zM49 12h1v1h-1zM25 13h1v1h-1zM29 13h1v1h-1zM34 13h1v1h-1zM37 13h1v1h-1zM42 13h1v1h-1zM50 13h1v1h-1zM28 14h1v1h-1zM19 15h1v1h-1zM33 15h1v1h-1zM41 15h1v1h-1zM48 15h1v1h-1zM8 16h1v1h-1zM10 16h1v1h-1zM31 16h1v1h-1zM34 16h1v1h-1zM42 16h1v1h-1zM47 16h2v1h-2zM52 16h1v1h-1zM54 16h1v1h-1zM33 17h5v1h-5zM39 17h1v1h-1zM48 17h1v1h-1zM50 17h1v1h-1zM52 17h1v1h-1zM9 18h1v1h-1zM22 18h1v1h-1zM29 18h1v1h-1zM31 18h1v1h-1zM34 18h1v1h-1zM37 18h1v1h-1zM52 18h1v1h-1zM22 19h2v1h-2zM28 19h1v1h-1zM46 19h1v1h-1zM50 19h1v1h-1zM29 20h1v1h-1zM34 20h1v1h-1zM50 20h1v1h-1zM52 20h1v1h-1zM63 20h1v1h-1zM7 21h1v1h-1zM11 21h1v1h-1zM22 21h1v1h-1zM37 21h1v1h-1zM47 21h1v1h-1zM49 21h1v1h-1zM52 21h1v1h-1zM54 21h1v1h-1zM14 22h1v1h-1zM17 22h1v1h-1zM19 22h1v1h-1zM25 22h2v1h-2zM34 22h1v1h-1zM6 23h1v1h-1zM22 23h1v1h-1zM28 23h1v1h-1zM40 23h1v1h-1zM46 23h1v1h-1zM51 23h1v1h-1zM57 23h1v1h-1zM8 24h1v1h-1zM29 24h1v1h-1zM45 24h2v1h-2zM53 24h1v1h-1zM53 25h1v1h-1zM74 25h1v1h-1zM30 26h1v1h-1zM49 26h1v1h-1zM63 26h1v1h-1zM14 27h1v1h-1zM16 27h1v1h-1zM26 27h2v1h-2zM38 27h1v1h-1zM41 27h1v1h-1zM46 27h1v1h-1zM54 27h1v1h-1zM75 27h1v1h-1zM4 28h1v1h-1zM18 28h1v1h-1zM36 28h2v1h-2zM45 28h2v1h-2zM2 29h1v1h-1zM41 29h1v1h-1zM44 29h1v1h-1zM61 29h1v1h-1zM75 29h1v1h-1zM6 30h1v1h-1zM20 30h1v1h-1zM23 30h1v1h-1zM49 30h1v1h-1zM3 31h1v1h-1zM14 31h1v1h-1zM19 31h1v1h-1zM35 31h1v1h-1zM40 31h1v1h-1zM44 31h2v1h-2zM4 32h1v1h-1zM6 32h1v1h-1zM10 32h1v1h-1zM24 32h1v1h-1zM26 32h1v1h-1zM44 32h1v1h-1zM54 32h1v1h-1zM9 33h1v1h-1zM15 33h1v1h-1zM17 33h1v1h-1zM20 33h2v1h-2zM35 33h1v1h-1zM38 33h1v1h-1zM52 33h1v1h-1zM3 34h1v1h-1zM7 34h1v1h-1zM37 34h1v1h-1zM52 34h1v1h-1zM5 35h1v1h-1zM14 35h1v1h-1zM26 35h1v1h-1zM44 35h1v1h-1zM3 36h1v1h-1zM10 36h1v1h-1zM14 36h1v1h-1zM20 36h1v1h-1zM26 36h1v1h-1zM15 37h1v1h-1zM31 37h1v1h-1zM34 37h1v1h-1zM37 37h1v1h-1zM3 38h1v1h-1zM8 38h1v1h-1zM17 38h1v1h-1zM31 38h1v1h-1zM1 39h1v1h-1zM5 39h1v1h-1zM9 39h1v1h-1zM27 39h1v1h-1zM30 39h1v1h-1zM5 40h1v1h-1zM9 40h1v1h-1zM16 40h1v1h-1zM27 40h1v1h-1zM30 40h1v1h-1zM76 40h1v1h-1zM3 41h1v1h-1zM18 41h4v1h-4zM26 41h2v1h-2zM33 41h1v1h-1zM39 41h1v1h-1zM50 41h1v1h-1zM57 41h1v1h-1zM63 41h1v1h-1zM65 41h1v1h-1zM71 41h1v1h-1zM5 42h1v1h-1zM26 43h1v1h-1zM33 43h1v1h-1zM32 44h1v1h-1zM17 57h1v1h-1zM14 59h1v1h-1z"/>
<path fill="#303030" d="M34 1h1v1h-1zM41 1h1v1h-1zM43 1h1v1h-1zM31 2h1v1h-1zM41 2h2v1h-2zM44 2h1v1h-1zM47 2h2v1h-2zM27 3h1v1h-1zM37 3h1v1h-1zM41 3h1v1h-1zM46 3h1v1h-1zM33 4h1v1h-1zM38 4h1v1h-1zM41 4h1v1h-1zM23 5h1v1h-1zM26 5h1v1h-1zM33 5h1v1h-1zM48 5h1v1h-1zM21 6h1v1h-1zM32 6h1v1h-1zM34 6h1v1h-1zM36 6h1v1h-1zM47 6h1v1h-1zM51 6h1v1h-1zM18 7h1v1h-1zM23 7h1v1h-1zM28 7h1v1h-1zM52 7h1v1h-1zM23 8h1v1h-1zM34 8h1v1h-1zM46 8h1v1h-1zM52 8h1v1h-1zM16 9h1v1h-1zM32 9h1v1h-1zM39 9h2v1h-2zM44 9h1v1h-1zM17 10h1v1h-1zM21 10h1v1h-1zM40 10h1v1h-1zM15 11h1v1h-1zM23 11h1v1h-1zM32 11h1v1h-1zM45 11h2v1h-2zM54 11h1v1h-1zM62 11h1v1h-1zM16 12h1v1h-1zM21 12h1v1h-1zM38 12h1v1h-1zM31 13h1v1h-1zM14 14h1v1h-1zM16 14h1v1h-1zM23 14h1v1h-1zM31 14h2v1h-2zM9 15h1v1h-1zM12 15h1v1h-1zM14 15h1v1h-1zM31 15h1v1h-1zM39 15h1v1h-1zM51 15h2v1h-2zM17 16h1v1h-1zM19 16h1v1h-1zM22 16h2v1h-2zM33 16h1v1h-1zM46 16h1v1h-1zM23 17h1v1h-1zM28 17h1v1h-1zM39 18h1v1h-1zM50 18h2v1h-2zM8 19h1v1h-1zM26 19h1v1h-1zM31 19h1v1h-1zM34 19h1v1h-1zM6 20h1v1h-1zM8 21h1v1h-1zM31 21h1v1h-1zM34 21h1v1h-1zM15 22h1v1h-1zM36 22h1v1h-1zM52 22h1v1h-1zM8 23h1v1h-1zM11 23h1v1h-1zM19 23h1v1h-1zM30 23h1v1h-1zM32 23h1v1h-1zM10 24h1v1h-1zM15 24h1v1h-1zM19 24h1v1h-1zM28 24h1v1h-1zM31 24h2v1h-2zM51 24h1v1h-1zM3 25h1v1h-1zM19 25h1v1h-1zM21 25h1v1h-1zM36 25h1v1h-1zM46 25h1v1h-1zM50 25h1v1h-1zM8 26h1v1h-1zM18 26h1v1h-1zM36 26h1v1h-1zM40 26h1v1h-1zM46 26h1v1h-1zM53 26h2v1h-2zM8 27h1v1h-1zM50 27h1v1h-1zM77 27h1v1h-1zM21 28h1v1h-1zM25 28h1v1h-1zM44 28h1v1h-1zM53 28h1v1h-1zM16 29h1v1h-1zM18 29h1v1h-1zM25 29h1v1h-1zM46 29h1v1h-1zM16 30h1v1h-1zM30 30h1v1h-1zM33 30h1v1h-1zM53 30h2v1h-2zM26 31h1v1h-1zM33 31h1v1h-1zM49 31h2v1h-2zM2 32h1v1h-1zM14 32h1v1h-1zM16 32h1v1h-1zM23 32h1v1h-1zM35 32h1v1h-1zM40 32h1v1h-1zM43 32h1v1h-1zM27 33h1v1h-1zM33 33h1v1h-1zM16 34h2v1h-2zM25 34h1v1h-1zM33 34h1v1h-1zM15 35h2v1h-2zM22 35h1v1h-1zM5 36h1v1h-1zM8 36h1v1h-1zM30 36h2v1h-2zM33 36h1v1h-1zM1 37h1v1h-1zM8 37h1v1h-1zM16 37h1v1h-1zM5 38h1v1h-1zM28 38h1v1h-1zM8 39h1v1h-1zM15 39h1v1h-1zM19 39h1v1h-1zM22 39h1v1h-1zM25 39h1v1h-1zM28 40h1v1h-1zM43 40h1v1h-1zM5 41h1v1h-1zM14 41h2v1h-2zM29 41h1v1h-1zM34 41h1v1h-1zM37 41h2v1h-2zM75 41h1v1h-1zM78 41h1v1h-1zM2 42h1v1h-1zM7 42h2v1h-2zM26 42h1v1h-1zM18 56h1v1h-1z"/>
<path fill="#343434" d="M32 1h1v1h-1zM28 2h2v1h-2zM32 2h1v1h-1zM32 3h1v1h-1zM34 3h1v1h-1zM38 3h1v1h-1zM51 3h1v1h-1zM54 3h1v1h-1zM35 4h2v1h-2zM46 4h1v1h-1zM54 4h1v1h-1zM31 5h2v1h-2zM36 5h1v1h-1zM54 5h1v1h-1zM40 6h1v1h-1zM54 6h1v1h-1zM24 7h1v1h-1zM33 7h1v1h-1zM36 7h1v1h-1zM26 8h1v1h-1zM32 8h1v1h-1zM28 9h1v1h-1zM15 10h1v1h-1zM27 10h1v1h-1zM29 10h1v1h-1zM32 10h1v1h-1zM46 10h1v1h-1zM16 11h1v1h-1zM45 12h1v1h-1zM14 13h1v1h-1zM38 13h1v1h-1zM22 14h1v1h-1zM36 14h1v1h-1zM38 14h1v1h-1zM28 15h1v1h-1zM32 15h1v1h-1zM35 15h1v1h-1zM38 15h1v1h-1zM46 15h1v1h-1zM14 16h1v1h-1zM32 16h1v1h-1zM8 17h2v1h-2zM17 17h1v1h-1zM38 17h1v1h-1zM19 18h1v1h-1zM26 18h1v1h-1zM38 18h1v1h-1zM6 19h1v1h-1zM41 19h1v1h-1zM8 20h1v1h-1zM23 20h1v1h-1zM37 20h1v1h-1zM41 20h1v1h-1zM12 21h1v1h-1zM19 21h1v1h-1zM25 21h1v1h-1zM32 21h1v1h-1zM41 21h1v1h-1zM10 22h1v1h-1zM12 22h1v1h-1zM32 22h1v1h-1zM40 22h1v1h-1zM42 23h1v1h-1zM45 23h1v1h-1zM67 24h1v1h-1zM18 25h1v1h-1zM32 25h1v1h-1zM38 25h1v1h-1zM45 25h1v1h-1zM77 25h1v1h-1zM38 26h1v1h-1zM50 26h1v1h-1zM77 26h1v1h-1zM22 27h1v1h-1zM45 27h1v1h-1zM53 27h1v1h-1zM2 28h2v1h-2zM23 28h1v1h-1zM26 28h1v1h-1zM35 28h1v1h-1zM40 28h1v1h-1zM14 29h1v1h-1zM42 29h1v1h-1zM45 29h1v1h-1zM53 29h2v1h-2zM3 30h1v1h-1zM18 30h1v1h-1zM39 30h1v1h-1zM41 30h1v1h-1zM44 30h1v1h-1zM7 31h1v1h-1zM16 31h1v1h-1zM25 31h1v1h-1zM38 32h1v1h-1zM52 32h1v1h-1zM13 33h1v1h-1zM24 33h3v1h-3zM8 34h1v1h-1zM13 34h1v1h-1zM15 34h1v1h-1zM18 34h1v1h-1zM22 34h1v1h-1zM31 34h1v1h-1zM40 34h1v1h-1zM18 35h1v1h-1zM33 35h1v1h-1zM22 37h1v1h-1zM41 37h1v1h-1zM15 38h1v1h-1zM18 39h1v1h-1zM33 39h1v1h-1zM6 40h1v1h-1zM18 40h1v1h-1zM25 40h1v1h-1zM31 40h1v1h-1zM34 40h1v1h-1zM6 41h1v1h-1zM23 41h2v1h-2zM28 41h1v1h-1zM30 41h1v1h-1zM35 41h1v1h-1zM40 41h1v1h-1zM48 41h1v1h-1zM52 41h1v1h-1zM54 41h1v1h-1zM56 41h1v1h-1zM61 41h2v1h-2zM66 41h1v1h-1zM70 41h1v1h-1zM74 41h1v1h-1zM9 42h2v1h-2zM17 42h2v1h-2zM4 43h1v1h-1zM22 43h1v1h-1zM33 44h1v1h-1zM4 45h1v1h-1z"/>
<path fill="#383838" d="M37 1h2v1h-2zM40 1h1v1h-1zM44 1h1v1h-1zM33 2h1v1h-1zM36 2h3v1h-3zM51 2h1v1h-1zM33 3h1v1h-1zM36 3h1v1h-1zM40 4h1v1h-1zM40 5h1v1h-1zM46 5h1v1h-1zM27 6h1v1h-1zM29 6h1v1h-1zM31 6h1v1h-1zM51 7h1v1h-1zM28 8h1v1h-1zM21 9h1v1h-1zM29 9h1v1h-1zM35 10h1v1h-1zM17 12h1v1h-1zM23 12h1v1h-1zM36 12h1v1h-1zM12 13h1v1h-1zM19 13h1v1h-1zM26 13h1v1h-1zM35 13h1v1h-1zM39 13h1v1h-1zM45 13h2v1h-2zM17 14h1v1h-1zM25 14h1v1h-1zM35 14h1v1h-1zM45 14h1v1h-1zM36 15h1v1h-1zM46 17h1v1h-1zM7 19h1v1h-1zM25 19h1v1h-1zM32 19h1v1h-1zM32 20h1v1h-1zM36 20h1v1h-1zM6 21h1v1h-1zM45 21h1v1h-1zM6 22h1v1h-1zM45 22h1v1h-1zM24 23h1v1h-1zM36 23h1v1h-1zM52 23h1v1h-1zM6 24h2v1h-2zM9 24h1v1h-1zM24 24h1v1h-1zM35 24h2v1h-2zM41 24h1v1h-1zM6 25h1v1h-1zM25 25h1v1h-1zM51 25h1v1h-1zM54 25h1v1h-1zM3 26h1v1h-1zM6 26h1v1h-1zM10 26h1v1h-1zM43 26h1v1h-1zM45 26h1v1h-1zM6 27h1v1h-1zM18 27h1v1h-1zM13 28h1v1h-1zM16 28h1v1h-1zM6 29h1v1h-1zM8 29h1v1h-1zM19 29h1v1h-1zM35 29h1v1h-1zM37 29h1v1h-1zM39 29h1v1h-1zM50 29h2v1h-2zM8 30h1v1h-1zM35 30h1v1h-1zM38 30h1v1h-1zM45 30h1v1h-1zM50 30h2v1h-2zM8 31h1v1h-1zM18 31h1v1h-1zM38 31h1v1h-1zM1 32h1v1h-1zM21 32h2v1h-2zM18 33h1v1h-1zM1 35h1v1h-1zM7 35h1v1h-1zM18 36h1v1h-1zM3 37h1v1h-1zM18 37h1v1h-1zM30 38h1v1h-1zM40 38h1v1h-1zM16 39h1v1h-1zM28 39h1v1h-1zM41 39h1v1h-1zM12 41h1v1h-1zM16 41h1v1h-1zM25 41h1v1h-1zM36 41h1v1h-1zM47 41h1v1h-1zM49 41h1v1h-1zM53 41h1v1h-1zM55 41h1v1h-1zM58 41h1v1h-1zM64 41h1v1h-1zM67 41h1v1h-1zM69 41h1v1h-1zM72 41h1v1h-1zM76 41h2v1h-2zM1 42h1v1h-1zM12 42h1v1h-1zM19 42h1v1h-1zM21 42h1v1h-1zM23 42h1v1h-1zM28 42h1v1h-1zM34 42h1v1h-1zM78 42h1v1h-1zM5 43h1v1h-1zM4 44h1v1h-1zM31 45h2v1h-2zM76 50h1v1h-1zM14 57h1v1h-1zM14 58h1v1h-1z"/>
<path fill="#3c3c3c" d="M40 0h1v1h-1zM33 1h1v1h-1zM40 3h1v1h-1zM22 5h1v1h-1zM51 5h1v1h-1zM20 6h1v1h-1zM35 6h1v1h-1zM46 6h1v1h-1zM35 7h1v1h-1zM40 7h1v1h-1zM41 8h1v1h-1zM44 8h1v1h-1zM23 9h1v1h-1zM46 9h1v1h-1zM22 10h1v1h-1zM26 10h1v1h-1zM35 11h1v1h-1zM40 11h1v1h-1zM26 12h1v1h-1zM35 12h1v1h-1zM12 14h1v1h-1zM25 16h1v1h-1zM12 17h1v1h-1zM32 17h1v1h-1zM8 18h1v1h-1zM23 18h1v1h-1zM32 18h1v1h-1zM46 18h1v1h-1zM9 20h1v1h-1zM25 20h1v1h-1zM8 22h1v1h-1zM24 22h1v1h-1zM7 23h1v1h-1zM17 24h1v1h-1zM52 24h1v1h-1zM8 25h1v1h-1zM11 26h1v1h-1zM13 26h1v1h-1zM25 26h1v1h-1zM25 27h1v1h-1zM7 28h1v1h-1zM14 28h1v1h-1zM38 28h1v1h-1zM51 28h1v1h-1zM13 29h1v1h-1zM26 29h1v1h-1zM38 29h1v1h-1zM12 31h2v1h-2zM54 31h1v1h-1zM16 33h1v1h-1zM1 34h1v1h-1zM8 35h1v1h-1zM15 36h1v1h-1zM30 37h1v1h-1zM41 38h1v1h-1zM31 41h1v1h-1zM51 41h1v1h-1zM59 41h2v1h-2zM68 41h1v1h-1zM73 41h1v1h-1zM79 41h1v1h-1zM6 42h1v1h-1zM15 42h1v1h-1zM24 42h1v1h-1zM27 42h1v1h-1zM29 42h1v1h-1zM65 42h1v1h-1zM10 43h1v1h-1zM13 43h1v1h-1zM29 43h1v1h-1zM34 43h1v1h-1zM72 43h1v1h-1zM9 44h1v1h-1zM26 44h1v1h-1zM17 56h1v1h-1zM12 57h1v1h-1zM18 57h1v1h-1zM17 58h1v1h-1zM12 59h1v1h-1z"/>
<path fill="#404040" d="M40 2h1v1h-1zM29 3h1v1h-1zM29 4h1v1h-1zM35 5h1v1h-1zM23 6h1v1h-1zM20 7h1v1h-1zM26 7h1v1h-1zM29 8h1v1h-1zM35 8h1v1h-1zM40 8h1v1h-1zM35 9h1v1h-1zM54 9h1v1h-1zM18 10h1v1h-1zM39 10h1v1h-1zM26 11h1v1h-1zM36 13h1v1h-1zM46 14h1v1h-1zM22 15h1v1h-1zM25 15h1v1h-1zM12 16h1v1h-1zM36 16h1v1h-1zM22 17h1v1h-1zM24 19h1v1h-1zM11 20h1v1h-1zM24 21h1v1h-1zM9 22h1v1h-1zM41 22h1v1h-1zM9 23h1v1h-1zM7 25h1v1h-1zM9 25h1v1h-1zM41 25h1v1h-1zM7 26h1v1h-1zM51 27h1v1h-1zM6 28h1v1h-1zM24 28h1v1h-1zM12 29h1v1h-1zM40 29h1v1h-1zM52 30h1v1h-1zM6 31h1v1h-1zM43 31h1v1h-1zM8 32h1v1h-1zM11 32h1v1h-1zM13 32h1v1h-1zM25 32h1v1h-1zM16 42h1v1h-1zM20 42h1v1h-1zM30 42h1v1h-1zM38 42h2v1h-2zM56 42h1v1h-1zM63 42h1v1h-1zM72 42h1v1h-1zM75 42h2v1h-2zM79 42h1v1h-1zM2 43h1v1h-1zM7 43h1v1h-1zM17 43h1v1h-1zM28 43h1v1h-1zM73 43h1v1h-1zM77 43h2v1h-2zM30 44h2v1h-2zM7 45h1v1h-1zM9 45h1v1h-1zM30 45h1v1h-1zM78 45h2v1h-2zM76 48h1v1h-1zM76 49h1v1h-1zM71 50h2v1h-2zM76 51h1v1h-1zM9 53h2v1h-2zM62 55h1v1h-1zM9 56h1v1h-1zM19 56h1v1h-1zM61 56h1v1h-1zM63 56h1v1h-1zM9 57h1v1h-1zM19 57h1v1h-1zM22 57h1v1h-1zM18 58h1v1h-1zM67 58h1v1h-1zM17 59h1v1h-1zM19 59h1v1h-1zM53 59h1v1h-1zM65 59h1v1h-1zM67 59h1v1h-1z"/>
<path fill="#444444" d="M31 4h1v1h-1zM51 4h1v1h-1zM29 5h1v1h-1zM26 6h1v1h-1zM22 7h1v1h-1zM29 7h1v1h-1zM54 7h1v1h-1zM20 8h1v1h-1zM22 8h1v1h-1zM36 8h1v1h-1zM54 8h1v1h-1zM26 9h1v1h-1zM18 11h1v1h-1zM22 12h1v1h-1zM40 12h1v1h-1zM20 16h1v1h-1zM25 17h1v1h-1zM12 20h1v1h-1zM24 20h1v1h-1zM9 21h1v1h-1zM20 21h1v1h-1zM7 22h1v1h-1zM12 23h1v1h-1zM41 23h1v1h-1zM12 24h1v1h-1zM13 25h1v1h-1zM52 25h1v1h-1zM30 27h1v1h-1zM43 27h1v1h-1zM8 28h1v1h-1zM24 29h1v1h-1zM30 29h1v1h-1zM12 30h1v1h-1zM40 30h1v1h-1zM8 33h1v1h-1zM11 35h1v1h-1zM41 41h1v1h-1zM46 41h1v1h-1zM3 42h1v1h-1zM14 42h1v1h-1zM25 42h1v1h-1zM31 42h1v1h-1zM35 42h1v1h-1zM40 42h1v1h-1zM48 42h1v1h-1zM50 42h1v1h-1zM55 42h1v1h-1zM57 42h2v1h-2zM61 42h2v1h-2zM64 42h1v1h-1zM70 42h1v1h-1zM74 42h1v1h-1zM77 42h1v1h-1zM1 43h1v1h-1zM9 43h1v1h-1zM18 43h1v1h-1zM21 43h1v1h-1zM24 43h1v1h-1zM30 43h2v1h-2zM49 43h2v1h-2zM56 43h3v1h-3zM79 43h1v1h-1zM8 44h1v1h-1zM17 44h1v1h-1zM29 44h1v1h-1zM58 44h1v1h-1zM66 44h1v1h-1zM78 44h2v1h-2zM18 45h1v1h-1zM77 45h1v1h-1zM67 46h1v1h-1zM7 47h1v1h-1zM71 48h1v1h-1zM75 48h1v1h-1zM72 49h1v1h-1zM75 49h1v1h-1zM67 50h1v1h-1zM73 50h1v1h-1zM75 50h1v1h-1zM44 51h1v1h-1zM73 51h1v1h-1zM9 52h1v1h-1zM67 52h1v1h-1zM75 52h1v1h-1zM38 53h1v1h-1zM66 53h1v1h-1zM9 54h2v1h-2zM14 54h1v1h-1zM66 54h1v1h-1zM4 55h1v1h-1zM14 55h1v1h-1zM18 55h1v1h-1zM61 55h1v1h-1zM63 55h2v1h-2zM4 56h1v1h-1zM14 56h1v1h-1zM22 56h1v1h-1zM62 56h1v1h-1zM12 58h1v1h-1zM19 58h1v1h-1zM23 58h1v1h-1zM55 58h1v1h-1zM64 58h1v1h-1zM70 58h2v1h-2zM23 59h1v1h-1zM64 59h1v1h-1zM66 59h1v1h-1zM75 59h1v1h-1zM14 60h1v1h-1zM67 61h1v1h-1z"/>
<path fill="#484848" d="M20 9h1v1h-1zM22 9h1v1h-1zM36 9h1v1h-1zM36 11h1v1h-1zM26 14h1v1h-1zM26 17h1v1h-1zM12 18h1v1h-1zM20 18h1v1h-1zM25 18h1v1h-1zM11 19h1v1h-1zM18 20h1v1h-1zM20 24h1v1h-1zM20 25h1v1h-1zM24 25h1v1h-1zM12 27h1v1h-1zM12 28h1v1h-1zM30 28h1v1h-1zM13 30h1v1h-1zM24 30h1v1h-1zM11 31h1v1h-1zM24 31h1v1h-1zM11 34h1v1h-1zM36 42h2v1h-2zM49 42h1v1h-1zM51 42h1v1h-1zM68 42h2v1h-2zM71 42h1v1h-1zM73 42h1v1h-1zM15 43h1v1h-1zM23 43h1v1h-1zM25 43h1v1h-1zM27 43h1v1h-1zM64 43h1v1h-1zM66 43h2v1h-2zM70 43h1v1h-1zM74 43h1v1h-1zM76 43h1v1h-1zM2 44h1v1h-1zM5 44h1v1h-1zM7 44h1v1h-1zM10 44h1v1h-1zM18 44h1v1h-1zM22 44h1v1h-1zM28 44h1v1h-1zM57 44h1v1h-1zM67 44h1v1h-1zM72 44h3v1h-3zM77 44h1v1h-1zM2 45h1v1h-1zM5 45h2v1h-2zM8 45h1v1h-1zM13 45h1v1h-1zM26 45h2v1h-2zM29 45h1v1h-1zM54 45h1v1h-1zM58 45h1v1h-1zM67 45h1v1h-1zM71 45h2v1h-2zM7 46h2v1h-2zM18 46h1v1h-1zM29 46h1v1h-1zM70 46h1v1h-1zM73 46h1v1h-1zM79 46h1v1h-1zM67 47h1v1h-1zM74 47h1v1h-1zM76 47h1v1h-1zM73 48h2v1h-2zM67 49h1v1h-1zM71 49h1v1h-1zM73 49h1v1h-1zM77 49h1v1h-1zM66 50h1v1h-1zM74 50h1v1h-1zM67 51h1v1h-1zM72 51h1v1h-1zM75 51h1v1h-1zM10 52h1v1h-1zM44 52h2v1h-2zM73 52h1v1h-1zM76 52h1v1h-1zM7 53h1v1h-1zM11 53h1v1h-1zM45 53h1v1h-1zM44 54h1v1h-1zM62 54h1v1h-1zM5 55h1v1h-1zM9 55h1v1h-1zM17 55h1v1h-1zM59 55h1v1h-1zM65 55h1v1h-1zM60 56h1v1h-1zM64 56h1v1h-1zM67 56h1v1h-1zM75 56h1v1h-1zM23 57h1v1h-1zM61 57h4v1h-4zM67 57h1v1h-1zM70 57h1v1h-1zM9 58h2v1h-2zM63 58h1v1h-1zM66 58h1v1h-1zM72 58h1v1h-1zM10 59h1v1h-1zM52 59h1v1h-1zM70 59h2v1h-2zM11 60h2v1h-2zM52 60h1v1h-1zM67 60h2v1h-2zM68 61h1v1h-1zM58 65h1v1h-1z"/>
<path fill="#4c4c4c" d="M22 6h1v1h-1zM31 9h1v1h-1zM36 10h1v1h-1zM22 11h1v1h-1zM22 13h1v1h-1zM20 15h1v1h-1zM26 15h1v1h-1zM15 17h1v1h-1zM11 18h1v1h-1zM20 20h1v1h-1zM24 26h1v1h-1zM51 26h2v1h-2zM13 27h1v1h-1zM24 27h1v1h-1zM21 30h1v1h-1zM25 30h1v1h-1zM52 31h1v1h-1zM11 33h1v1h-1zM60 42h1v1h-1zM66 42h1v1h-1zM8 43h1v1h-1zM12 43h1v1h-1zM14 43h1v1h-1zM16 43h1v1h-1zM19 43h2v1h-2zM55 43h1v1h-1zM60 43h4v1h-4zM68 43h2v1h-2zM75 43h1v1h-1zM13 44h1v1h-1zM15 44h2v1h-2zM27 44h1v1h-1zM50 44h1v1h-1zM55 44h1v1h-1zM70 44h2v1h-2zM1 45h1v1h-1zM3 45h1v1h-1zM10 45h1v1h-1zM17 45h1v1h-1zM28 45h1v1h-1zM55 45h1v1h-1zM68 45h3v1h-3zM73 45h2v1h-2zM76 45h1v1h-1zM1 46h2v1h-2zM5 46h2v1h-2zM28 46h1v1h-1zM44 46h1v1h-1zM50 46h1v1h-1zM69 46h1v1h-1zM74 46h5v1h-5zM9 47h1v1h-1zM63 47h1v1h-1zM71 47h1v1h-1zM73 47h1v1h-1zM75 47h1v1h-1zM78 47h1v1h-1zM63 48h1v1h-1zM70 48h1v1h-1zM66 49h1v1h-1zM74 49h1v1h-1zM44 50h1v1h-1zM10 51h1v1h-1zM16 51h1v1h-1zM61 51h2v1h-2zM66 51h1v1h-1zM71 51h1v1h-1zM74 51h1v1h-1zM5 52h1v1h-1zM7 52h1v1h-1zM16 52h1v1h-1zM66 52h1v1h-1zM70 52h1v1h-1zM77 52h1v1h-1zM5 53h1v1h-1zM44 53h1v1h-1zM52 53h1v1h-1zM62 53h2v1h-2zM65 53h1v1h-1zM67 53h1v1h-1zM71 53h1v1h-1zM75 53h1v1h-1zM4 54h2v1h-2zM11 54h1v1h-1zM18 54h1v1h-1zM52 54h3v1h-3zM61 54h1v1h-1zM63 54h3v1h-3zM10 55h2v1h-2zM22 55h1v1h-1zM44 55h1v1h-1zM52 55h1v1h-1zM60 55h1v1h-1zM66 55h1v1h-1zM75 55h1v1h-1zM77 55h1v1h-1zM5 56h1v1h-1zM8 56h1v1h-1zM47 56h1v1h-1zM52 56h1v1h-1zM55 56h1v1h-1zM58 56h1v1h-1zM65 56h1v1h-1zM4 57h1v1h-1zM7 57h2v1h-2zM11 57h1v1h-1zM55 57h2v1h-2zM71 57h1v1h-1zM75 57h2v1h-2zM22 58h1v1h-1zM52 58h2v1h-2zM62 58h1v1h-1zM65 58h1v1h-1zM68 58h2v1h-2zM75 58h1v1h-1zM18 59h1v1h-1zM54 59h1v1h-1zM69 59h1v1h-1zM53 60h2v1h-2zM65 60h1v1h-1zM70 60h1v1h-1zM66 61h1v1h-1zM66 62h2v1h-2zM68 68h1v1h-1zM58 70h1v1h-1zM46 77h1v1h-1z"/>
<path fill="#505050" d="M18 9h1v1h-1zM31 10h1v1h-1zM31 12h1v1h-1zM15 14h1v1h-1zM26 16h1v1h-1zM18 17h1v1h-1zM18 18h1v1h-1zM12 19h1v1h-1zM20 19h1v1h-1zM20 22h1v1h-1zM20 23h1v1h-1zM20 26h1v1h-1zM7 27h1v1h-1zM11 27h1v1h-1zM11 29h1v1h-1zM20 29h1v1h-1zM11 30h1v1h-1zM11 36h1v1h-1zM11 37h1v1h-1zM47 42h1v1h-1zM59 42h1v1h-1zM67 42h1v1h-1zM35 43h1v1h-1zM48 43h1v1h-1zM59 43h1v1h-1zM65 43h1v1h-1zM71 43h1v1h-1zM1 44h1v1h-1zM3 44h1v1h-1zM6 44h1v1h-1zM19 44h3v1h-3zM24 44h2v1h-2zM56 44h1v1h-1zM60 44h3v1h-3zM68 44h2v1h-2zM75 44h2v1h-2zM15 45h1v1h-1zM52 45h1v1h-1zM57 45h1v1h-1zM60 45h1v1h-1zM66 45h1v1h-1zM75 45h1v1h-1zM4 46h1v1h-1zM13 46h1v1h-1zM27 46h1v1h-1zM49 46h1v1h-1zM54 46h1v1h-1zM58 46h1v1h-1zM6 47h1v1h-1zM13 47h1v1h-1zM44 47h1v1h-1zM58 47h1v1h-1zM64 47h1v1h-1zM66 47h1v1h-1zM68 47h1v1h-1zM70 47h1v1h-1zM72 47h1v1h-1zM77 47h1v1h-1zM79 47h1v1h-1zM7 48h1v1h-1zM44 48h1v1h-1zM64 48h1v1h-1zM66 48h2v1h-2zM72 48h1v1h-1zM79 48h1v1h-1zM61 49h2v1h-2zM65 49h1v1h-1zM70 49h1v1h-1zM9 50h1v1h-1zM17 50h1v1h-1zM45 50h1v1h-1zM60 50h1v1h-1zM62 50h1v1h-1zM9 51h1v1h-1zM77 51h1v1h-1zM11 52h1v1h-1zM52 52h3v1h-3zM62 52h1v1h-1zM68 52h1v1h-1zM71 52h2v1h-2zM14 53h1v1h-1zM16 53h1v1h-1zM53 53h2v1h-2zM61 53h1v1h-1zM70 53h1v1h-1zM72 53h1v1h-1zM74 53h1v1h-1zM76 53h1v1h-1zM6 54h2v1h-2zM12 54h2v1h-2zM51 54h1v1h-1zM55 54h1v1h-1zM59 54h2v1h-2zM67 54h3v1h-3zM71 54h1v1h-1zM75 54h1v1h-1zM3 55h1v1h-1zM6 55h2v1h-2zM48 55h2v1h-2zM54 55h2v1h-2zM67 55h1v1h-1zM69 55h1v1h-1zM71 55h1v1h-1zM76 55h1v1h-1zM7 56h1v1h-1zM10 56h3v1h-3zM48 56h1v1h-1zM53 56h2v1h-2zM59 56h1v1h-1zM69 56h2v1h-2zM76 56h1v1h-1zM10 57h1v1h-1zM13 57h1v1h-1zM47 57h1v1h-1zM52 57h1v1h-1zM54 57h1v1h-1zM57 57h2v1h-2zM60 57h1v1h-1zM65 57h2v1h-2zM69 57h1v1h-1zM72 57h1v1h-1zM7 58h1v1h-1zM11 58h1v1h-1zM56 58h1v1h-1zM11 59h1v1h-1zM55 59h1v1h-1zM61 59h1v1h-1zM63 59h1v1h-1zM68 59h1v1h-1zM72 59h1v1h-1zM19 60h1v1h-1zM64 60h1v1h-1zM66 60h1v1h-1zM69 60h1v1h-1zM71 60h2v1h-2zM23 61h1v1h-1zM65 61h1v1h-1zM73 61h1v1h-1zM58 62h1v1h-1zM61 62h1v1h-1zM73 62h1v1h-1zM59 64h1v1h-1zM59 66h1v1h-1zM59 70h1v1h-1zM57 71h4v1h-4zM37 72h1v1h-1zM57 72h4v1h-4zM47 77h1v1h-1z"/>
<path fill="#545454" d="M31 8h1v1h-1zM31 11h1v1h-1zM15 16h1v1h-1zM18 16h1v1h-1zM20 17h1v1h-1zM15 20h1v1h-1zM52 27h1v1h-1zM52 29h1v1h-1zM11 38h1v1h-1zM11 40h1v1h-1zM11 41h1v1h-1zM11 42h1v1h-1zM41 42h1v1h-1zM54 42h1v1h-1zM3 43h1v1h-1zM6 43h1v1h-1zM11 43h1v1h-1zM37 43h1v1h-1zM41 43h1v1h-1zM47 43h1v1h-1zM51 43h1v1h-1zM12 44h1v1h-1zM23 44h1v1h-1zM49 44h1v1h-1zM54 44h1v1h-1zM59 44h1v1h-1zM63 44h1v1h-1zM14 45h1v1h-1zM16 45h1v1h-1zM21 45h1v1h-1zM33 45h1v1h-1zM49 45h2v1h-2zM53 45h1v1h-1zM56 45h1v1h-1zM59 45h1v1h-1zM61 45h2v1h-2zM3 46h1v1h-1zM9 46h2v1h-2zM14 46h4v1h-4zM19 46h1v1h-1zM55 46h1v1h-1zM57 46h1v1h-1zM59 46h2v1h-2zM68 46h1v1h-1zM71 46h2v1h-2zM1 47h1v1h-1zM8 47h1v1h-1zM10 47h1v1h-1zM18 47h1v1h-1zM50 47h1v1h-1zM57 47h1v1h-1zM59 47h1v1h-1zM65 47h1v1h-1zM69 47h1v1h-1zM9 48h1v1h-1zM12 48h1v1h-1zM18 48h2v1h-2zM21 48h1v1h-1zM45 48h1v1h-1zM51 48h1v1h-1zM58 48h1v1h-1zM61 48h2v1h-2zM65 48h1v1h-1zM69 48h1v1h-1zM77 48h2v1h-2zM44 49h2v1h-2zM60 49h1v1h-1zM63 49h1v1h-1zM5 50h1v1h-1zM12 50h1v1h-1zM16 50h1v1h-1zM61 50h1v1h-1zM63 50h1v1h-1zM65 50h1v1h-1zM77 50h1v1h-1zM12 51h1v1h-1zM43 51h1v1h-1zM45 51h1v1h-1zM55 51h1v1h-1zM63 51h2v1h-2zM68 51h1v1h-1zM2 52h1v1h-1zM4 52h1v1h-1zM6 52h1v1h-1zM46 52h1v1h-1zM61 52h1v1h-1zM63 52h3v1h-3zM74 52h1v1h-1zM6 53h1v1h-1zM8 53h1v1h-1zM13 53h1v1h-1zM43 53h1v1h-1zM49 53h1v1h-1zM64 53h1v1h-1zM68 53h1v1h-1zM73 53h1v1h-1zM77 53h1v1h-1zM3 54h1v1h-1zM8 54h1v1h-1zM17 54h1v1h-1zM45 54h2v1h-2zM48 54h1v1h-1zM72 54h3v1h-3zM76 54h2v1h-2zM8 55h1v1h-1zM12 55h2v1h-2zM19 55h1v1h-1zM46 55h2v1h-2zM50 55h2v1h-2zM53 55h1v1h-1zM58 55h1v1h-1zM70 55h1v1h-1zM73 55h1v1h-1zM6 56h1v1h-1zM13 56h1v1h-1zM43 56h3v1h-3zM51 56h1v1h-1zM56 56h2v1h-2zM66 56h1v1h-1zM71 56h2v1h-2zM74 56h1v1h-1zM5 57h1v1h-1zM53 57h1v1h-1zM8 58h1v1h-1zM13 58h1v1h-1zM47 58h1v1h-1zM54 58h1v1h-1zM61 58h1v1h-1zM8 59h2v1h-2zM21 59h1v1h-1zM62 59h1v1h-1zM73 59h2v1h-2zM17 60h1v1h-1zM73 60h2v1h-2zM12 61h1v1h-1zM53 61h1v1h-1zM61 61h1v1h-1zM64 61h1v1h-1zM69 61h1v1h-1zM72 61h1v1h-1zM59 62h2v1h-2zM68 62h2v1h-2zM61 63h1v1h-1zM58 64h1v1h-1zM59 65h1v1h-1zM58 66h1v1h-1zM60 66h1v1h-1zM59 67h1v1h-1zM62 67h1v1h-1zM68 67h2v1h-2zM58 69h1v1h-1zM19 71h1v1h-1zM19 72h1v1h-1zM46 72h1v1h-1zM63 72h1v1h-1zM34 73h1v1h-1zM46 73h1v1h-1zM51 73h2v1h-2zM61 73h1v1h-1zM33 74h1v1h-1zM51 74h1v1h-1zM61 74h1v1h-1zM45 77h1v1h-1z"/>
<path fill="#585858" d="M15 12h1v1h-1zM20 14h1v1h-1zM18 15h1v1h-1zM20 27h1v1h-1zM20 28h1v1h-1zM52 28h1v1h-1zM43 29h1v1h-1zM43 30h1v1h-1zM11 39h1v1h-1zM46 42h1v1h-1zM52 42h1v1h-1zM36 43h1v1h-1zM38 43h1v1h-1zM42 43h1v1h-1zM34 44h1v1h-1zM47 44h2v1h-2zM52 44h1v1h-1zM64 44h2v1h-2zM12 45h1v1h-1zM48 45h1v1h-1zM51 45h1v1h-1zM52 46h1v1h-1zM56 46h1v1h-1zM62 46h2v1h-2zM65 46h1v1h-1zM3 47h1v1h-1zM5 47h1v1h-1zM14 47h2v1h-2zM17 47h1v1h-1zM19 47h1v1h-1zM21 47h1v1h-1zM45 47h1v1h-1zM49 47h1v1h-1zM54 47h1v1h-1zM61 47h2v1h-2zM17 48h1v1h-1zM54 48h2v1h-2zM59 48h2v1h-2zM68 48h1v1h-1zM5 49h1v1h-1zM7 49h1v1h-1zM9 49h1v1h-1zM12 49h2v1h-2zM17 49h2v1h-2zM43 49h1v1h-1zM55 49h2v1h-2zM59 49h1v1h-1zM64 49h1v1h-1zM68 49h1v1h-1zM10 50h1v1h-1zM13 50h1v1h-1zM55 50h1v1h-1zM59 50h1v1h-1zM70 50h1v1h-1zM78 50h1v1h-1zM2 51h2v1h-2zM5 51h2v1h-2zM11 51h1v1h-1zM15 51h1v1h-1zM54 51h1v1h-1zM58 51h3v1h-3zM65 51h1v1h-1zM70 51h1v1h-1zM78 51h1v1h-1zM3 52h1v1h-1zM12 52h1v1h-1zM17 52h1v1h-1zM43 52h1v1h-1zM51 52h1v1h-1zM57 52h2v1h-2zM60 52h1v1h-1zM69 52h1v1h-1zM78 52h1v1h-1zM3 53h1v1h-1zM12 53h1v1h-1zM18 53h1v1h-1zM46 53h1v1h-1zM51 53h1v1h-1zM55 53h1v1h-1zM58 53h2v1h-2zM69 53h1v1h-1zM19 54h1v1h-1zM21 54h2v1h-2zM43 54h1v1h-1zM56 54h1v1h-1zM70 54h1v1h-1zM20 55h1v1h-1zM45 55h1v1h-1zM56 55h1v1h-1zM72 55h1v1h-1zM42 56h1v1h-1zM46 56h1v1h-1zM50 56h1v1h-1zM68 56h1v1h-1zM42 57h3v1h-3zM48 57h1v1h-1zM59 57h1v1h-1zM68 57h1v1h-1zM74 57h1v1h-1zM6 58h1v1h-1zM51 58h1v1h-1zM57 58h4v1h-4zM74 58h1v1h-1zM5 59h1v1h-1zM13 59h1v1h-1zM51 59h1v1h-1zM59 59h1v1h-1zM10 60h1v1h-1zM18 60h1v1h-1zM23 60h1v1h-1zM59 60h1v1h-1zM63 60h1v1h-1zM7 61h1v1h-1zM19 61h1v1h-1zM45 61h1v1h-1zM52 61h1v1h-1zM54 61h1v1h-1zM58 61h3v1h-3zM70 61h1v1h-1zM57 62h1v1h-1zM65 62h1v1h-1zM72 62h1v1h-1zM57 63h4v1h-4zM64 63h1v1h-1zM66 63h1v1h-1zM68 63h1v1h-1zM61 64h1v1h-1zM63 64h2v1h-2zM72 64h1v1h-1zM57 65h1v1h-1zM60 65h2v1h-2zM65 65h1v1h-1zM65 66h1v1h-1zM69 66h2v1h-2zM60 67h1v1h-1zM59 68h1v1h-1zM62 68h2v1h-2zM59 69h1v1h-1zM65 69h1v1h-1zM57 70h1v1h-1zM60 70h1v1h-1zM39 71h2v1h-2zM56 71h1v1h-1zM63 71h3v1h-3zM20 72h1v1h-1zM34 72h3v1h-3zM38 72h2v1h-2zM45 72h1v1h-1zM52 72h1v1h-1zM61 72h1v1h-1zM31 73h3v1h-3zM37 73h2v1h-2zM40 73h1v1h-1zM45 73h1v1h-1zM57 73h4v1h-4zM46 74h1v1h-1zM50 74h1v1h-1zM60 74h1v1h-1zM49 75h1v1h-1zM44 76h1v1h-1zM46 78h2v1h-2z"/>
<path fill="#5c5c5c" d="M31 7h1v1h-1zM11 13h1v1h-1zM15 15h1v1h-1zM11 16h1v1h-1zM15 18h1v1h-1zM15 19h1v1h-1zM18 19h1v1h-1zM11 28h1v1h-1zM45 41h1v1h-1zM53 42h1v1h-1zM54 43h1v1h-1zM11 44h1v1h-1zM14 44h1v1h-1zM51 44h1v1h-1zM19 45h1v1h-1zM22 45h1v1h-1zM44 45h2v1h-2zM47 45h1v1h-1zM63 45h1v1h-1zM65 45h1v1h-1zM12 46h1v1h-1zM26 46h1v1h-1zM45 46h1v1h-1zM48 46h1v1h-1zM51 46h1v1h-1zM53 46h1v1h-1zM61 46h1v1h-1zM66 46h1v1h-1zM2 47h1v1h-1zM4 47h1v1h-1zM51 47h1v1h-1zM55 47h2v1h-2zM3 48h1v1h-1zM5 48h1v1h-1zM8 48h1v1h-1zM10 48h2v1h-2zM13 48h1v1h-1zM43 48h1v1h-1zM49 48h2v1h-2zM52 48h1v1h-1zM2 49h1v1h-1zM6 49h1v1h-1zM15 49h1v1h-1zM21 49h1v1h-1zM46 49h1v1h-1zM51 49h1v1h-1zM54 49h1v1h-1zM78 49h1v1h-1zM3 50h1v1h-1zM6 50h2v1h-2zM43 50h1v1h-1zM46 50h1v1h-1zM54 50h1v1h-1zM56 50h1v1h-1zM58 50h1v1h-1zM64 50h1v1h-1zM68 50h1v1h-1zM4 51h1v1h-1zM7 51h1v1h-1zM46 51h1v1h-1zM51 51h3v1h-3zM56 51h2v1h-2zM69 51h1v1h-1zM8 52h1v1h-1zM21 52h1v1h-1zM55 52h2v1h-2zM59 52h1v1h-1zM4 53h1v1h-1zM17 53h1v1h-1zM21 53h1v1h-1zM50 53h1v1h-1zM60 53h1v1h-1zM16 54h1v1h-1zM47 54h1v1h-1zM21 55h1v1h-1zM43 55h1v1h-1zM57 55h1v1h-1zM68 55h1v1h-1zM74 55h1v1h-1zM20 56h2v1h-2zM23 56h1v1h-1zM41 56h1v1h-1zM73 56h1v1h-1zM6 57h1v1h-1zM30 57h1v1h-1zM34 57h1v1h-1zM38 57h4v1h-4zM50 57h2v1h-2zM73 57h1v1h-1zM15 58h1v1h-1zM33 58h2v1h-2zM40 58h2v1h-2zM48 58h1v1h-1zM50 58h1v1h-1zM6 59h2v1h-2zM45 59h1v1h-1zM47 59h1v1h-1zM50 59h1v1h-1zM56 59h1v1h-1zM58 59h1v1h-1zM60 59h1v1h-1zM6 60h3v1h-3zM45 60h1v1h-1zM51 60h1v1h-1zM60 60h2v1h-2zM11 61h1v1h-1zM14 61h1v1h-1zM57 61h1v1h-1zM74 61h1v1h-1zM23 62h1v1h-1zM62 62h1v1h-1zM23 63h1v1h-1zM65 63h1v1h-1zM67 63h1v1h-1zM72 63h1v1h-1zM57 64h1v1h-1zM60 64h1v1h-1zM65 64h2v1h-2zM62 65h1v1h-1zM66 65h1v1h-1zM70 65h2v1h-2zM55 66h1v1h-1zM61 66h3v1h-3zM66 66h1v1h-1zM58 67h1v1h-1zM61 67h1v1h-1zM63 67h3v1h-3zM67 67h1v1h-1zM60 68h1v1h-1zM66 68h1v1h-1zM57 69h1v1h-1zM60 69h1v1h-1zM63 69h2v1h-2zM46 70h1v1h-1zM63 70h4v1h-4zM20 71h1v1h-1zM34 71h1v1h-1zM41 71h2v1h-2zM46 71h1v1h-1zM52 71h1v1h-1zM61 71h1v1h-1zM21 72h1v1h-1zM40 72h2v1h-2zM51 72h1v1h-1zM64 72h1v1h-1zM35 73h2v1h-2zM43 73h1v1h-1zM53 73h1v1h-1zM32 74h1v1h-1zM34 74h1v1h-1zM43 74h1v1h-1zM45 74h1v1h-1zM49 74h1v1h-1zM52 74h1v1h-1zM45 75h2v1h-2zM50 75h1v1h-1zM45 76h3v1h-3z"/>
<path fill="#606060" d="M15 13h1v1h-1zM20 13h1v1h-1zM18 14h1v1h-1zM12 25h1v1h-1zM43 28h1v1h-1zM40 43h1v1h-1zM52 43h1v1h-1zM42 44h1v1h-1zM46 44h1v1h-1zM25 45h1v1h-1zM43 45h1v1h-1zM11 46h1v1h-1zM21 46h1v1h-1zM43 46h1v1h-1zM47 46h1v1h-1zM64 46h1v1h-1zM11 47h2v1h-2zM16 47h1v1h-1zM22 47h1v1h-1zM43 47h1v1h-1zM52 47h1v1h-1zM1 48h2v1h-2zM4 48h1v1h-1zM6 48h1v1h-1zM14 48h3v1h-3zM46 48h1v1h-1zM56 48h2v1h-2zM4 49h1v1h-1zM10 49h1v1h-1zM14 49h1v1h-1zM49 49h1v1h-1zM58 49h1v1h-1zM69 49h1v1h-1zM2 50h1v1h-1zM4 50h1v1h-1zM14 50h1v1h-1zM21 50h1v1h-1zM50 50h1v1h-1zM57 50h1v1h-1zM17 51h1v1h-1zM20 51h2v1h-2zM15 52h1v1h-1zM50 52h1v1h-1zM15 53h1v1h-1zM19 53h1v1h-1zM48 53h1v1h-1zM20 54h1v1h-1zM49 54h2v1h-2zM58 54h1v1h-1zM15 55h2v1h-2zM15 56h1v1h-1zM34 56h1v1h-1zM49 56h1v1h-1zM29 57h1v1h-1zM33 57h1v1h-1zM46 57h1v1h-1zM49 57h1v1h-1zM5 58h1v1h-1zM29 58h1v1h-1zM38 58h2v1h-2zM42 58h1v1h-1zM44 58h3v1h-3zM73 58h1v1h-1zM22 59h1v1h-1zM32 59h2v1h-2zM44 59h1v1h-1zM57 59h1v1h-1zM9 60h1v1h-1zM13 60h1v1h-1zM21 60h1v1h-1zM32 60h1v1h-1zM44 60h1v1h-1zM46 60h1v1h-1zM50 60h1v1h-1zM55 60h1v1h-1zM58 60h1v1h-1zM62 60h1v1h-1zM17 61h1v1h-1zM44 61h1v1h-1zM46 61h1v1h-1zM63 61h1v1h-1zM71 61h1v1h-1zM19 62h1v1h-1zM52 62h1v1h-1zM54 62h1v1h-1zM71 62h1v1h-1zM54 63h1v1h-1zM56 63h1v1h-1zM63 63h1v1h-1zM70 63h2v1h-2zM55 64h1v1h-1zM68 64h1v1h-1zM71 64h1v1h-1zM64 65h1v1h-1zM69 65h1v1h-1zM57 66h1v1h-1zM64 66h1v1h-1zM68 66h1v1h-1zM66 67h1v1h-1zM52 68h1v1h-1zM54 68h1v1h-1zM58 68h1v1h-1zM64 68h2v1h-2zM67 68h1v1h-1zM50 69h3v1h-3zM55 69h1v1h-1zM66 69h1v1h-1zM50 70h1v1h-1zM52 70h1v1h-1zM56 70h1v1h-1zM62 70h1v1h-1zM35 71h4v1h-4zM43 71h1v1h-1zM45 71h1v1h-1zM50 71h2v1h-2zM32 72h2v1h-2zM42 72h1v1h-1zM47 72h1v1h-1zM50 72h1v1h-1zM53 72h1v1h-1zM56 72h1v1h-1zM18 73h1v1h-1zM20 73h1v1h-1zM39 73h1v1h-1zM41 73h1v1h-1zM44 73h1v1h-1zM49 73h1v1h-1zM54 73h1v1h-1zM62 73h1v1h-1zM26 74h1v1h-1zM30 74h2v1h-2zM35 74h1v1h-1zM44 74h1v1h-1zM53 74h2v1h-2zM58 74h1v1h-1zM28 75h1v1h-1zM33 75h1v1h-1zM57 75h2v1h-2zM48 76h1v1h-1zM57 76h1v1h-1zM44 77h1v1h-1zM48 77h1v1h-1z"/>
<path fill="#646464" d="M20 10h1v1h-1zM20 11h1v1h-1zM18 13h1v1h-1zM11 14h1v1h-1zM11 15h1v1h-1zM11 17h1v1h-1zM12 26h1v1h-1zM42 41h1v1h-1zM39 43h1v1h-1zM46 43h1v1h-1zM39 44h1v1h-1zM43 44h1v1h-1zM53 44h1v1h-1zM11 45h1v1h-1zM23 45h1v1h-1zM46 45h1v1h-1zM64 45h1v1h-1zM22 46h1v1h-1zM53 47h1v1h-1zM60 47h1v1h-1zM22 48h1v1h-1zM53 48h1v1h-1zM3 49h1v1h-1zM8 49h1v1h-1zM16 49h1v1h-1zM50 49h1v1h-1zM57 49h1v1h-1zM11 50h1v1h-1zM15 50h1v1h-1zM18 50h1v1h-1zM49 50h1v1h-1zM52 50h2v1h-2zM13 51h1v1h-1zM47 51h1v1h-1zM49 51h1v1h-1zM13 52h1v1h-1zM20 52h1v1h-1zM48 52h2v1h-2zM20 53h1v1h-1zM47 53h1v1h-1zM56 53h2v1h-2zM15 54h1v1h-1zM57 54h1v1h-1zM27 55h1v1h-1zM42 55h1v1h-1zM16 56h1v1h-1zM27 56h1v1h-1zM30 56h2v1h-2zM33 56h1v1h-1zM15 57h2v1h-2zM28 57h1v1h-1zM31 57h1v1h-1zM35 57h1v1h-1zM45 57h1v1h-1zM16 58h1v1h-1zM21 58h1v1h-1zM28 58h1v1h-1zM30 58h1v1h-1zM43 58h1v1h-1zM49 58h1v1h-1zM15 59h2v1h-2zM26 59h1v1h-1zM31 59h1v1h-1zM34 59h1v1h-1zM46 59h1v1h-1zM49 59h1v1h-1zM40 60h1v1h-1zM49 60h1v1h-1zM13 61h1v1h-1zM49 61h1v1h-1zM55 61h1v1h-1zM62 61h1v1h-1zM7 62h1v1h-1zM12 62h2v1h-2zM44 62h1v1h-1zM53 62h1v1h-1zM55 62h2v1h-2zM64 62h1v1h-1zM70 62h1v1h-1zM55 63h1v1h-1zM62 63h1v1h-1zM69 63h1v1h-1zM10 64h1v1h-1zM56 64h1v1h-1zM62 64h1v1h-1zM70 64h1v1h-1zM54 65h2v1h-2zM63 65h1v1h-1zM68 65h1v1h-1zM54 66h1v1h-1zM67 66h1v1h-1zM54 67h1v1h-1zM57 67h1v1h-1zM50 68h1v1h-1zM53 68h1v1h-1zM55 68h1v1h-1zM57 68h1v1h-1zM61 68h1v1h-1zM47 69h1v1h-1zM49 69h1v1h-1zM53 69h1v1h-1zM61 69h2v1h-2zM67 69h1v1h-1zM40 70h1v1h-1zM45 70h1v1h-1zM48 70h2v1h-2zM51 70h1v1h-1zM53 70h1v1h-1zM61 70h1v1h-1zM21 71h1v1h-1zM47 71h1v1h-1zM53 71h1v1h-1zM43 72h2v1h-2zM54 72h1v1h-1zM62 72h1v1h-1zM19 73h1v1h-1zM21 73h1v1h-1zM47 73h1v1h-1zM50 73h1v1h-1zM56 73h1v1h-1zM19 74h1v1h-1zM36 74h3v1h-3zM40 74h1v1h-1zM47 74h2v1h-2zM55 74h1v1h-1zM57 74h1v1h-1zM59 74h1v1h-1zM32 75h1v1h-1zM43 75h2v1h-2zM47 75h2v1h-2zM55 75h1v1h-1zM59 75h1v1h-1zM27 76h1v1h-1zM49 76h1v1h-1zM56 76h1v1h-1z"/>
<path fill="#686868" d="M18 12h1v1h-1zM20 12h1v1h-1zM53 43h1v1h-1zM38 44h1v1h-1zM44 44h1v1h-1zM42 45h1v1h-1zM42 46h1v1h-1zM46 46h1v1h-1zM46 47h3v1h-3zM48 48h1v1h-1zM11 49h1v1h-1zM19 49h1v1h-1zM47 49h1v1h-1zM52 49h2v1h-2zM34 50h1v1h-1zM47 50h1v1h-1zM51 50h1v1h-1zM69 50h1v1h-1zM14 51h1v1h-1zM18 51h1v1h-1zM50 51h1v1h-1zM18 52h1v1h-1zM47 52h1v1h-1zM22 53h1v1h-1zM42 53h1v1h-1zM42 54h1v1h-1zM28 56h1v1h-1zM40 56h1v1h-1zM20 57h1v1h-1zM27 57h1v1h-1zM32 57h1v1h-1zM37 57h1v1h-1zM31 58h2v1h-2zM35 58h2v1h-2zM28 59h1v1h-1zM30 59h1v1h-1zM35 59h2v1h-2zM38 59h2v1h-2zM41 59h1v1h-1zM48 59h1v1h-1zM24 60h1v1h-1zM31 60h1v1h-1zM33 60h1v1h-1zM56 60h1v1h-1zM6 61h1v1h-1zM8 61h1v1h-1zM47 61h1v1h-1zM51 61h1v1h-1zM8 62h1v1h-1zM11 62h1v1h-1zM45 62h1v1h-1zM51 62h1v1h-1zM63 62h1v1h-1zM50 63h1v1h-1zM52 63h1v1h-1zM50 64h1v1h-1zM54 64h1v1h-1zM67 64h1v1h-1zM56 65h1v1h-1zM56 66h1v1h-1zM52 67h1v1h-1zM55 67h1v1h-1zM51 68h1v1h-1zM56 68h1v1h-1zM46 69h1v1h-1zM54 69h1v1h-1zM56 69h1v1h-1zM18 70h2v1h-2zM43 70h1v1h-1zM47 70h1v1h-1zM54 70h2v1h-2zM18 71h1v1h-1zM33 71h1v1h-1zM44 71h1v1h-1zM49 71h1v1h-1zM54 71h2v1h-2zM62 71h1v1h-1zM18 72h1v1h-1zM48 72h2v1h-2zM55 72h1v1h-1zM42 73h1v1h-1zM48 73h1v1h-1zM39 74h1v1h-1zM42 74h1v1h-1zM27 75h1v1h-1zM29 75h2v1h-2zM35 75h1v1h-1zM54 75h1v1h-1zM56 75h1v1h-1zM55 77h1v1h-1z"/>
<path fill="#6c6c6c" d="M37 44h1v1h-1zM40 44h2v1h-2zM45 44h1v1h-1zM24 45h1v1h-1zM40 45h1v1h-1zM41 46h1v1h-1zM40 47h1v1h-1zM20 48h1v1h-1zM47 48h1v1h-1zM22 49h1v1h-1zM48 49h1v1h-1zM8 51h1v1h-1zM14 52h1v1h-1zM19 52h1v1h-1zM22 52h1v1h-1zM38 54h1v1h-1zM41 55h1v1h-1zM26 56h1v1h-1zM35 56h1v1h-1zM37 56h2v1h-2zM21 57h1v1h-1zM36 57h1v1h-1zM27 58h1v1h-1zM37 58h1v1h-1zM40 59h1v1h-1zM43 59h1v1h-1zM34 60h5v1h-5zM43 60h1v1h-1zM47 60h2v1h-2zM57 60h1v1h-1zM10 61h1v1h-1zM50 61h1v1h-1zM56 61h1v1h-1zM10 62h1v1h-1zM17 62h1v1h-1zM46 62h2v1h-2zM50 62h1v1h-1zM11 63h3v1h-3zM45 63h1v1h-1zM11 64h1v1h-1zM52 64h1v1h-1zM69 64h1v1h-1zM11 65h1v1h-1zM67 65h1v1h-1zM52 66h1v1h-1zM56 67h1v1h-1zM49 68h1v1h-1zM20 70h1v1h-1zM34 70h2v1h-2zM37 70h1v1h-1zM39 70h1v1h-1zM41 70h2v1h-2zM48 71h1v1h-1zM17 72h1v1h-1zM22 73h1v1h-1zM55 73h1v1h-1zM56 74h1v1h-1zM26 75h1v1h-1zM31 75h1v1h-1zM34 75h1v1h-1zM42 75h1v1h-1zM51 75h1v1h-1zM28 76h1v1h-1zM31 76h1v1h-1zM33 76h1v1h-1zM55 76h1v1h-1zM25 77h1v1h-1zM27 77h1v1h-1zM30 77h1v1h-1z"/>
<path fill="#707070" d="M43 43h1v1h-1zM36 44h1v1h-1zM39 45h1v1h-1zM41 45h1v1h-1zM40 46h1v1h-1zM20 47h1v1h-1zM34 47h1v1h-1zM42 48h1v1h-1zM8 50h1v1h-1zM19 50h1v1h-1zM42 50h1v1h-1zM19 51h1v1h-1zM22 51h1v1h-1zM42 51h1v1h-1zM48 51h1v1h-1zM42 52h1v1h-1zM28 55h1v1h-1zM32 56h1v1h-1zM36 56h1v1h-1zM39 56h1v1h-1zM20 58h1v1h-1zM24 58h1v1h-1zM20 59h1v1h-1zM24 59h1v1h-1zM29 59h1v1h-1zM37 59h1v1h-1zM42 59h1v1h-1zM15 60h2v1h-2zM26 60h1v1h-1zM28 60h3v1h-3zM39 60h1v1h-1zM42 60h1v1h-1zM9 61h1v1h-1zM18 61h1v1h-1zM21 61h1v1h-1zM24 61h1v1h-1zM39 61h2v1h-2zM43 61h1v1h-1zM48 61h1v1h-1zM14 62h1v1h-1zM8 63h1v1h-1zM10 63h1v1h-1zM17 63h1v1h-1zM51 63h1v1h-1zM53 63h1v1h-1zM51 64h1v1h-1zM10 65h1v1h-1zM49 65h2v1h-2zM11 66h1v1h-1zM51 66h1v1h-1zM51 67h1v1h-1zM53 67h1v1h-1zM19 69h2v1h-2zM35 69h1v1h-1zM45 69h1v1h-1zM48 69h1v1h-1zM21 70h1v1h-1zM36 70h1v1h-1zM38 70h1v1h-1zM22 72h1v1h-1zM31 72h1v1h-1zM26 73h1v1h-1zM30 73h1v1h-1zM20 74h3v1h-3zM27 74h1v1h-1zM29 74h1v1h-1zM41 74h1v1h-1zM21 75h1v1h-1zM38 75h2v1h-2zM53 75h1v1h-1zM23 76h1v1h-1zM30 76h1v1h-1zM32 76h1v1h-1zM43 76h1v1h-1zM50 76h1v1h-1zM26 77h1v1h-1zM45 78h1v1h-1z"/>
<path fill="#747474" d="M42 42h1v1h-1zM35 44h1v1h-1zM38 45h1v1h-1zM30 46h1v1h-1zM38 47h1v1h-1zM41 47h2v1h-2zM40 48h2v1h-2zM42 49h1v1h-1zM22 50h1v1h-1zM48 50h1v1h-1zM26 51h1v1h-1zM26 52h1v1h-1zM28 54h1v1h-1zM26 55h1v1h-1zM37 55h1v1h-1zM29 56h1v1h-1zM24 57h1v1h-1zM26 58h1v1h-1zM27 59h1v1h-1zM41 60h1v1h-1zM15 61h2v1h-2zM34 61h2v1h-2zM37 61h1v1h-1zM41 61h1v1h-1zM43 62h1v1h-1zM49 62h1v1h-1zM49 63h1v1h-1zM8 64h1v1h-1zM12 64h2v1h-2zM49 64h1v1h-1zM52 65h2v1h-2zM10 66h1v1h-1zM53 66h1v1h-1zM49 67h2v1h-2zM47 68h1v1h-1zM18 69h1v1h-1zM36 69h1v1h-1zM38 69h2v1h-2zM44 70h1v1h-1zM32 71h1v1h-1zM16 72h1v1h-1zM28 74h1v1h-1zM23 75h1v1h-1zM25 75h1v1h-1zM36 75h2v1h-2zM40 75h2v1h-2zM52 75h1v1h-1zM26 76h1v1h-1zM34 76h1v1h-1zM28 77h1v1h-1zM31 77h1v1h-1zM30 78h1v1h-1z"/>
<path fill="#787878" d="M39 47h1v1h-1zM39 48h1v1h-1zM39 49h1v1h-1zM41 49h1v1h-1zM26 50h1v1h-1zM38 52h1v1h-1zM26 53h1v1h-1zM26 54h2v1h-2zM39 54h1v1h-1zM23 55h1v1h-1zM32 55h1v1h-1zM34 55h1v1h-1zM40 55h1v1h-1zM26 57h1v1h-1zM22 60h1v1h-1zM33 61h1v1h-1zM38 61h1v1h-1zM42 61h1v1h-1zM16 62h1v1h-1zM21 62h1v1h-1zM24 62h1v1h-1zM39 62h1v1h-1zM48 62h1v1h-1zM14 63h1v1h-1zM16 63h1v1h-1zM19 63h1v1h-1zM43 63h2v1h-2zM9 64h1v1h-1zM16 64h1v1h-1zM44 64h1v1h-1zM53 64h1v1h-1zM12 65h1v1h-1zM16 65h1v1h-1zM51 65h1v1h-1zM50 66h1v1h-1zM11 67h1v1h-1zM47 67h1v1h-1zM48 68h1v1h-1zM37 69h1v1h-1zM40 69h1v1h-1zM42 69h2v1h-2zM33 70h1v1h-1zM22 75h1v1h-1zM29 76h1v1h-1zM35 76h1v1h-1zM49 77h1v1h-1z"/>
<path fill="#7c7c7c" d="M44 41h1v1h-1zM20 45h1v1h-1zM37 45h1v1h-1zM20 46h1v1h-1zM38 46h2v1h-2zM35 47h1v1h-1zM38 48h1v1h-1zM20 49h1v1h-1zM32 49h2v1h-2zM40 49h1v1h-1zM33 50h1v1h-1zM38 51h1v1h-1zM39 53h1v1h-1zM30 55h2v1h-2zM33 55h1v1h-1zM35 55h1v1h-1zM25 57h1v1h-1zM22 61h1v1h-1zM31 61h2v1h-2zM36 61h1v1h-1zM9 62h1v1h-1zM20 62h1v1h-1zM22 62h1v1h-1zM35 62h1v1h-1zM42 62h1v1h-1zM9 63h1v1h-1zM46 63h3v1h-3zM17 64h1v1h-1zM9 65h1v1h-1zM48 65h1v1h-1zM48 66h1v1h-1zM48 67h1v1h-1zM46 68h1v1h-1zM34 69h1v1h-1zM44 69h1v1h-1zM17 70h1v1h-1zM15 71h1v1h-1zM17 71h1v1h-1zM30 72h1v1h-1zM27 73h1v1h-1zM29 73h1v1h-1zM37 76h1v1h-1zM42 76h1v1h-1zM29 77h1v1h-1zM28 78h1v1h-1z"/>
<path fill="#808080" d="M34 45h1v1h-1zM36 47h1v1h-1zM32 48h1v1h-1zM37 48h1v1h-1zM34 49h1v1h-1zM35 50h1v1h-1zM27 53h2v1h-2zM37 53h1v1h-1zM29 54h1v1h-1zM34 54h1v1h-1zM29 55h1v1h-1zM36 55h1v1h-1zM27 60h1v1h-1zM26 61h1v1h-1zM29 61h2v1h-2zM36 62h2v1h-2zM40 62h2v1h-2zM15 63h1v1h-1zM20 63h1v1h-1zM24 63h1v1h-1zM18 64h2v1h-2zM45 64h1v1h-1zM48 64h1v1h-1zM13 65h1v1h-1zM44 65h1v1h-1zM49 66h1v1h-1zM18 68h1v1h-1zM39 68h1v1h-1zM15 69h1v1h-1zM17 69h1v1h-1zM41 69h1v1h-1zM15 70h1v1h-1zM32 70h1v1h-1zM31 71h1v1h-1zM25 76h1v1h-1zM36 76h1v1h-1zM38 76h3v1h-3zM31 78h1v1h-1zM44 78h1v1h-1zM45 79h1v1h-1z"/>
<path fill="#848484" d="M43 41h1v1h-1zM45 42h1v1h-1zM44 43h1v1h-1zM31 46h2v1h-2zM37 46h1v1h-1zM33 47h1v1h-1zM37 47h1v1h-1zM35 48h2v1h-2zM20 50h1v1h-1zM39 50h1v1h-1zM27 52h1v1h-1zM29 53h1v1h-1zM33 53h1v1h-1zM32 54h2v1h-2zM38 55h1v1h-1zM15 62h1v1h-1zM18 62h1v1h-1zM18 63h1v1h-1zM21 63h2v1h-2zM38 63h1v1h-1zM15 64h1v1h-1zM23 64h1v1h-1zM46 64h2v1h-2zM17 65h1v1h-1zM12 66h1v1h-1zM44 66h1v1h-1zM15 67h1v1h-1zM14 68h1v1h-1zM19 68h2v1h-2zM36 68h3v1h-3zM43 68h2v1h-2zM21 69h1v1h-1zM33 69h1v1h-1zM14 70h1v1h-1zM16 71h1v1h-1zM22 71h1v1h-1zM28 73h1v1h-1zM41 76h1v1h-1z"/>
<path fill="#888888" d="M34 46h3v1h-3zM33 48h2v1h-2zM26 49h1v1h-1zM38 49h1v1h-1zM38 50h1v1h-1zM27 51h1v1h-1zM39 52h1v1h-1zM34 53h1v1h-1zM30 54h2v1h-2zM37 54h1v1h-1zM41 54h1v1h-1zM24 56h1v1h-1zM25 58h1v1h-1zM20 60h1v1h-1zM28 61h1v1h-1zM34 62h1v1h-1zM38 62h1v1h-1zM39 63h1v1h-1zM42 63h1v1h-1zM14 64h1v1h-1zM20 64h1v1h-1zM43 64h1v1h-1zM43 65h1v1h-1zM45 65h1v1h-1zM16 66h1v1h-1zM43 66h1v1h-1zM47 66h1v1h-1zM12 67h1v1h-1zM43 67h2v1h-2zM12 68h1v1h-1zM15 68h1v1h-1zM34 68h1v1h-1zM40 68h1v1h-1zM45 68h1v1h-1zM13 69h1v1h-1zM16 70h1v1h-1zM31 70h1v1h-1zM26 72h1v1h-1zM25 74h1v1h-1zM24 75h1v1h-1zM50 77h1v1h-1zM29 78h1v1h-1z"/>
<path fill="#8c8c8c" d="M27 47h1v1h-1zM35 49h1v1h-1zM28 51h2v1h-2zM39 51h1v1h-1zM28 52h2v1h-2zM34 52h1v1h-1zM30 53h1v1h-1zM32 53h1v1h-1zM39 55h1v1h-1zM27 61h1v1h-1zM28 62h2v1h-2zM33 62h1v1h-1zM36 63h2v1h-2zM40 63h2v1h-2zM15 65h1v1h-1zM18 65h1v1h-1zM46 65h2v1h-2zM13 66h1v1h-1zM17 66h1v1h-1zM46 66h1v1h-1zM13 67h1v1h-1zM16 67h2v1h-2zM41 67h2v1h-2zM46 67h1v1h-1zM17 68h1v1h-1zM41 68h2v1h-2zM14 69h1v1h-1zM23 74h1v1h-1z"/>
<path fill="#909090" d="M27 50h1v1h-1zM40 50h2v1h-2zM40 54h1v1h-1zM25 56h1v1h-1zM26 62h1v1h-1zM32 62h1v1h-1zM35 63h1v1h-1zM24 64h1v1h-1zM41 64h2v1h-2zM14 65h1v1h-1zM23 65h1v1h-1zM45 66h1v1h-1zM18 67h1v1h-1zM45 67h1v1h-1zM13 68h1v1h-1zM33 68h1v1h-1zM35 68h1v1h-1zM16 69h1v1h-1zM32 69h1v1h-1zM51 76h1v1h-1zM32 77h1v1h-1zM52 78h1v1h-1zM44 79h1v1h-1z"/>
<path fill="#949494" d="M30 47h1v1h-1zM31 48h1v1h-1zM32 50h1v1h-1zM30 52h1v1h-1zM31 53h1v1h-1zM35 54h1v1h-1zM25 60h1v1h-1zM31 62h1v1h-1zM32 63h2v1h-2zM37 64h1v1h-1zM19 65h2v1h-2zM42 65h1v1h-1zM14 66h2v1h-2zM18 66h1v1h-1zM42 66h1v1h-1zM14 67h1v1h-1zM36 67h1v1h-1zM39 67h2v1h-2zM16 68h1v1h-1zM21 68h1v1h-1zM30 71h1v1h-1zM54 76h1v1h-1zM42 77h1v1h-1zM43 78h1v1h-1z"/>
<path fill="#989898" d="M43 42h1v1h-1zM45 43h1v1h-1zM29 47h1v1h-1zM32 47h1v1h-1zM26 48h1v1h-1zM28 50h1v1h-1zM34 51h2v1h-2zM37 51h1v1h-1zM31 52h1v1h-1zM25 55h1v1h-1zM25 59h1v1h-1zM28 63h1v1h-1zM31 63h1v1h-1zM31 64h1v1h-1zM36 64h1v1h-1zM38 64h1v1h-1zM40 64h1v1h-1zM41 65h1v1h-1zM19 66h1v1h-1zM41 66h1v1h-1zM19 67h1v1h-1zM37 67h2v1h-2zM31 69h1v1h-1zM27 72h1v1h-1zM29 72h1v1h-1zM33 77h1v1h-1zM43 77h1v1h-1zM48 78h1v1h-1zM43 79h1v1h-1z"/>
<path fill="#9c9c9c" d="M28 47h1v1h-1zM31 47h1v1h-1zM32 51h2v1h-2zM32 52h2v1h-2zM35 53h1v1h-1zM23 54h1v1h-1zM36 54h1v1h-1zM29 63h1v1h-1zM34 63h1v1h-1zM34 64h2v1h-2zM39 64h1v1h-1zM40 66h1v1h-1zM20 67h1v1h-1zM35 67h1v1h-1zM22 70h1v1h-1zM30 70h1v1h-1zM26 71h1v1h-1zM25 73h1v1h-1zM34 77h1v1h-1zM41 77h1v1h-1z"/>
<path fill="#a0a0a0" d="M35 45h2v1h-2zM33 46h1v1h-1zM27 48h1v1h-1zM27 49h1v1h-1zM36 51h1v1h-1zM37 52h1v1h-1zM24 55h1v1h-1zM20 61h1v1h-1zM25 61h1v1h-1zM25 62h1v1h-1zM30 62h1v1h-1zM32 64h2v1h-2zM35 65h1v1h-1zM38 65h1v1h-1zM40 65h1v1h-1zM20 66h1v1h-1zM23 66h1v1h-1zM33 67h2v1h-2zM32 68h1v1h-1zM22 69h1v1h-1zM52 76h1v1h-1zM54 77h1v1h-1zM32 78h1v1h-1zM41 78h1v1h-1zM49 78h3v1h-3zM32 79h1v1h-1zM41 79h2v1h-2z"/>
<path fill="#a4a4a4" d="M44 42h1v1h-1zM23 46h1v1h-1zM29 50h1v1h-1zM27 62h1v1h-1zM30 63h1v1h-1zM30 64h1v1h-1zM32 65h1v1h-1zM36 65h2v1h-2zM34 66h1v1h-1zM38 66h1v1h-1zM22 68h1v1h-1zM27 71h1v1h-1zM28 72h1v1h-1zM35 77h6v1h-6zM42 78h1v1h-1zM33 79h2v1h-2z"/>
<path fill="#a8a8a8" d="M23 47h1v1h-1zM31 49h1v1h-1zM30 51h2v1h-2zM40 51h2v1h-2zM41 53h1v1h-1zM25 54h1v1h-1zM25 63h2v1h-2zM28 64h1v1h-1zM31 65h1v1h-1zM33 65h2v1h-2zM39 65h1v1h-1zM35 66h3v1h-3zM39 66h1v1h-1zM22 67h1v1h-1zM32 67h1v1h-1zM31 68h1v1h-1zM30 69h1v1h-1zM23 73h1v1h-1zM53 76h1v1h-1zM51 77h1v1h-1zM33 78h2v1h-2zM39 78h2v1h-2zM35 79h1v1h-1zM39 79h1v1h-1z"/>
<path fill="#acacac" d="M28 49h1v1h-1zM31 50h1v1h-1zM25 52h1v1h-1zM30 65h1v1h-1zM21 67h1v1h-1zM28 71h2v1h-2zM37 78h1v1h-1zM40 79h1v1h-1z"/>
<path fill="#b0b0b0" d="M24 46h2v1h-2zM26 47h1v1h-1zM23 48h1v1h-1zM37 49h1v1h-1zM35 52h1v1h-1zM40 52h2v1h-2zM23 53h1v1h-1zM25 53h1v1h-1zM40 53h1v1h-1zM29 64h1v1h-1zM33 66h1v1h-1zM31 67h1v1h-1zM27 70h1v1h-1zM36 78h1v1h-1zM37 79h2v1h-2z"/>
<path fill="#b4b4b4" d="M28 48h1v1h-1zM23 49h1v1h-1zM36 49h1v1h-1zM23 51h1v1h-1zM25 51h1v1h-1zM21 64h2v1h-2zM30 68h1v1h-1zM25 72h1v1h-1zM52 77h2v1h-2zM38 78h1v1h-1z"/>
<path fill="#b8b8b8" d="M23 50h1v1h-1zM30 50h1v1h-1zM36 50h1v1h-1zM36 53h1v1h-1zM27 63h1v1h-1zM21 65h2v1h-2zM22 66h1v1h-1zM32 66h1v1h-1zM26 70h1v1h-1zM35 78h1v1h-1zM36 79h1v1h-1z"/>
<path fill="#bcbcbc" d="M24 48h1v1h-1zM37 50h1v1h-1zM24 54h1v1h-1zM21 66h1v1h-1zM27 69h1v1h-1zM29 70h1v1h-1z"/>
<path fill="#c0c0c0" d="M24 47h1v1h-1zM25 48h1v1h-1zM23 52h1v1h-1zM25 64h1v1h-1zM27 64h1v1h-1zM24 65h1v1h-1zM28 65h2v1h-2zM31 66h1v1h-1zM28 70h1v1h-1zM24 76h1v1h-1zM46 79h1v1h-1z"/>
<path fill="#c4c4c4" d="M26 64h1v1h-1zM30 67h1v1h-1z"/>
<path fill="#c8c8c8" d="M25 49h1v1h-1zM27 65h1v1h-1zM27 68h1v1h-1zM28 69h1v1h-1zM24 74h1v1h-1z"/>
<path fill="#cccccc" d="M24 49h1v1h-1zM25 50h1v1h-1zM24 51h1v1h-1zM29 66h2v1h-2zM29 69h1v1h-1z"/>
<path fill="#d0d0d0" d="M25 47h1v1h-1zM24 53h1v1h-1zM25 65h1v1h-1zM28 66h1v1h-1zM27 67h1v1h-1zM28 68h2v1h-2zM47 79h1v1h-1z"/>
<path fill="#d4d4d4" d="M24 50h1v1h-1zM26 69h1v1h-1zM25 71h1v1h-1zM48 79h1v1h-1z"/>
<path fill="#d8d8d8" d="M29 49h1v1h-1zM24 52h1v1h-1zM26 65h1v1h-1zM29 67h1v1h-1z"/>
<path fill="#dcdcdc" d="M28 67h1v1h-1z"/>
<path fill="#e0e0e0" d="M36 52h1v1h-1zM25 66h1v1h-1zM27 66h1v1h-1z"/>
<path fill="#e4e4e4" d="M24 66h1v1h-1zM26 68h1v1h-1zM24 73h1v1h-1z"/>
<path fill="#e8e8e8" d="M29 48h1v1h-1zM26 67h1v1h-1z"/>
<path fill="#f0f0f0" d="M30 49h1v1h-1zM26 66h1v1h-1z"/>
<path fill="#f4f4f4" d="M30 48h1v1h-1zM23 68h1v1h-1zM23 69h1v1h-1zM23 70h1v1h-1zM23 72h1v1h-1z"/>
<path fill="#f8f8f8" d="M23 67h1v1h-1zM23 71h1v1h-1z"/>
<path fill="#fcfcfc" d="M24 67h1v1h-1zM25 68h1v1h-1zM25 69h1v1h-1zM24 70h2v1h-2z"/>
<path fill="#ffffff" d="M25 67h1v1h-1zM24 68h1v1h-1zM24 69h1v1h-1zM24 71h1v1h-1zM24 72h1v1h-1z"/>
</g>
<polygon points="332.6,236.7 337.9,242.9 344.5,243.5 348.9,248 347.4,255.2 339.8,261.8 327.5,260.8 323.8,255.2 324.3,246.7 328.5,241" fill="none" stroke="#ee1c1c" stroke-width="3.4" stroke-linejoin="round"/>
<polygon points="302.1,285.4 308.7,290.1 313,295.8 313,301.5 303.4,309.4 292.3,309.4 287.9,304.2 288.3,294.8 294.5,288.2" fill="none" stroke="#22e022" stroke-width="3.4" stroke-linejoin="round"/>
<polygon points="310.6,267.5 317.2,270.3 319.4,276.9 317.2,284.4 310.6,291 304.9,292.5 298.3,288.2 293.6,280.7 295.5,273.1 302.1,268.8" fill="none" stroke="#1414d8" stroke-width="3.4" stroke-linejoin="round"/>
<polygon points="291,316.1 298.5,316.1 306,323.5 306.5,337 303.5,340.2 291.5,340.2 282.6,331.5 282.6,324.5" fill="none" stroke="#ffffff" stroke-width="3.4" stroke-linejoin="round"/>
<polygon points="315.5,315.7 322.4,315.7 330.4,323.9 330.4,337 326.8,340.2 308.6,340.2 306.5,337.7 306.5,323.9" fill="none" stroke="#f4f020" stroke-width="3.4" stroke-linejoin="round"/>

<rect x="858.9" y="104.2" width="630.1" height="367.8" fill="none" stroke="#262626" stroke-width="5.3"/>
<rect x="1066.3" y="463.0" width="5.2" height="9" fill="#262626"/><rect x="1066.3" y="104.2" width="5.2" height="9" fill="#262626"/><rect x="1276.4" y="463.0" width="5.2" height="9" fill="#262626"/><rect x="1276.4" y="104.2" width="5.2" height="9" fill="#262626"/><rect x="858.9" y="434.0" width="8.8" height="5" fill="#262626"/><rect x="1480.2" y="434.0" width="8.8" height="5" fill="#262626"/><rect x="858.9" y="281.8" width="8.8" height="5" fill="#262626"/><rect x="1480.2" y="281.8" width="8.8" height="5" fill="#262626"/><rect x="858.9" y="129.6" width="8.8" height="5" fill="#262626"/><rect x="1480.2" y="129.6" width="8.8" height="5" fill="#262626"/>
<text x="858.9" y="534.6" text-anchor="middle" font-size="49.5" fill="#262626" font-family="Liberation Sans" font-weight="bold">0</text><text x="1068.9" y="534.6" text-anchor="middle" font-size="49.5" fill="#262626" font-family="Liberation Sans" font-weight="bold">100</text><text x="1279.0" y="534.6" text-anchor="middle" font-size="49.5" fill="#262626" font-family="Liberation Sans" font-weight="bold">200</text><text x="1489.0" y="534.6" text-anchor="middle" font-size="49.5" fill="#262626" font-family="Liberation Sans" font-weight="bold">300</text><text x="844.2" y="450.2" text-anchor="end" font-size="49.5" fill="#262626" font-family="Liberation Sans" font-weight="bold">0</text><text x="844.2" y="298.0" text-anchor="end" font-size="49.5" fill="#262626" font-family="Liberation Sans" font-weight="bold">500</text><text x="844.2" y="145.2" text-anchor="end" font-size="49.5" fill="#262626" font-family="Liberation Sans" font-weight="bold">1000</text><text x="1048.58" y="607.2" font-size="53.4" fill="#262626" font-family="Liberation Sans" font-weight="bold" textLength="121.20" lengthAdjust="spacingAndGlyphs">Time</text><text x="1185.66" y="607.2" font-size="53.4" fill="#262626" font-family="Liberation Sans" font-weight="bold" textLength="114.12" lengthAdjust="spacingAndGlyphs">(sec)</text><text transform="translate(705.4 496.67) rotate(-90)" font-size="53.4" fill="#262626" font-family="Liberation Sans" font-weight="bold" textLength="95.75" lengthAdjust="spacingAndGlyphs">DCE</text><text transform="translate(705.4 385.92) rotate(-90)" font-size="53.4" fill="#262626" font-family="Liberation Sans" font-weight="bold" textLength="307.47" lengthAdjust="spacingAndGlyphs">Enancement</text>
<g fill="none" stroke="#000" stroke-width="1.05"><circle cx="859.5" cy="447.9" r="5"/><circle cx="860.1" cy="449.9" r="5"/><circle cx="860.7" cy="441.3" r="5"/><circle cx="861.2" cy="420.5" r="5"/><circle cx="861.8" cy="431.1" r="5"/><circle cx="862.4" cy="423.1" r="5"/><circle cx="863.0" cy="425.0" r="5"/><circle cx="863.5" cy="434.9" r="5"/><circle cx="864.1" cy="437.9" r="5"/><circle cx="864.7" cy="421.7" r="5"/><circle cx="865.3" cy="421.7" r="5"/><circle cx="865.8" cy="428.3" r="5"/><circle cx="866.4" cy="432.4" r="5"/><circle cx="867.0" cy="434.6" r="5"/><circle cx="867.5" cy="429.8" r="5"/><circle cx="868.1" cy="414.5" r="5"/><circle cx="868.7" cy="425.4" r="5"/><circle cx="869.3" cy="428.7" r="5"/><circle cx="869.8" cy="432.8" r="5"/><circle cx="870.4" cy="430.2" r="5"/><circle cx="871.0" cy="442.9" r="5"/><circle cx="871.6" cy="445.1" r="5"/><circle cx="872.1" cy="447.2" r="5"/><circle cx="872.7" cy="452.0" r="5"/><circle cx="873.3" cy="450.0" r="5"/><circle cx="873.8" cy="455.6" r="5"/><circle cx="874.4" cy="453.0" r="5"/><circle cx="875.0" cy="434.5" r="5"/><circle cx="875.6" cy="443.0" r="5"/><circle cx="876.1" cy="442.1" r="5"/><circle cx="876.7" cy="431.2" r="5"/><circle cx="877.3" cy="434.7" r="5"/><circle cx="877.9" cy="441.9" r="5"/><circle cx="878.4" cy="428.9" r="5"/><circle cx="879.0" cy="430.9" r="5"/><circle cx="879.6" cy="431.4" r="5"/><circle cx="880.1" cy="427.8" r="5"/><circle cx="880.7" cy="438.6" r="5"/><circle cx="881.3" cy="425.6" r="5"/><circle cx="881.9" cy="437.0" r="5"/><circle cx="882.4" cy="431.7" r="5"/><circle cx="883.0" cy="434.2" r="5"/><circle cx="883.6" cy="428.1" r="5"/><circle cx="884.2" cy="434.7" r="5"/><circle cx="884.7" cy="429.6" r="5"/><circle cx="885.3" cy="430.3" r="5"/><circle cx="885.9" cy="435.7" r="5"/><circle cx="886.5" cy="437.8" r="5"/><circle cx="887.0" cy="422.3" r="5"/><circle cx="887.6" cy="420.8" r="5"/><circle cx="888.2" cy="426.1" r="5"/><circle cx="888.7" cy="428.6" r="5"/><circle cx="889.3" cy="434.6" r="5"/><circle cx="889.9" cy="443.5" r="5"/><circle cx="890.5" cy="433.7" r="5"/><circle cx="891.0" cy="429.5" r="5"/><circle cx="891.6" cy="443.5" r="5"/><circle cx="892.2" cy="440.6" r="5"/><circle cx="892.8" cy="424.6" r="5"/><circle cx="893.3" cy="447.2" r="5"/><circle cx="893.9" cy="428.9" r="5"/><circle cx="894.5" cy="440.5" r="5"/><circle cx="895.0" cy="426.6" r="5"/><circle cx="895.6" cy="430.1" r="5"/><circle cx="896.2" cy="453.4" r="5"/><circle cx="896.8" cy="448.0" r="5"/><circle cx="897.3" cy="436.0" r="5"/><circle cx="897.9" cy="440.0" r="5"/><circle cx="898.5" cy="432.2" r="5"/><circle cx="899.1" cy="437.9" r="5"/><circle cx="899.6" cy="428.3" r="5"/><circle cx="900.2" cy="429.0" r="5"/><circle cx="900.8" cy="436.4" r="5"/><circle cx="901.3" cy="444.1" r="5"/><circle cx="901.9" cy="438.8" r="5"/><circle cx="902.5" cy="450.1" r="5"/><circle cx="903.1" cy="450.5" r="5"/><circle cx="903.6" cy="443.4" r="5"/><circle cx="904.2" cy="434.9" r="5"/><circle cx="904.8" cy="428.3" r="5"/><circle cx="905.4" cy="430.9" r="5"/><circle cx="905.9" cy="412.8" r="5"/><circle cx="906.5" cy="433.1" r="5"/><circle cx="907.1" cy="438.5" r="5"/><circle cx="907.6" cy="429.2" r="5"/><circle cx="908.2" cy="422.0" r="5"/><circle cx="908.8" cy="420.5" r="5"/><circle cx="909.4" cy="414.9" r="5"/><circle cx="909.9" cy="420.8" r="5"/><circle cx="910.5" cy="424.6" r="5"/><circle cx="911.1" cy="422.0" r="5"/><circle cx="911.7" cy="415.5" r="5"/><circle cx="912.2" cy="414.8" r="5"/><circle cx="912.8" cy="415.7" r="5"/><circle cx="913.4" cy="420.4" r="5"/><circle cx="913.9" cy="431.7" r="5"/><circle cx="914.5" cy="420.4" r="5"/><circle cx="915.1" cy="422.1" r="5"/><circle cx="915.7" cy="432.8" r="5"/><circle cx="916.2" cy="435.3" r="5"/><circle cx="916.8" cy="435.3" r="5"/><circle cx="917.4" cy="418.4" r="5"/><circle cx="918.0" cy="426.1" r="5"/><circle cx="918.5" cy="419.9" r="5"/><circle cx="919.1" cy="427.4" r="5"/><circle cx="919.7" cy="419.4" r="5"/><circle cx="920.2" cy="421.4" r="5"/><circle cx="920.8" cy="443.7" r="5"/><circle cx="921.4" cy="445.1" r="5"/><circle cx="922.0" cy="442.2" r="5"/><circle cx="922.5" cy="445.5" r="5"/><circle cx="923.1" cy="441.6" r="5"/><circle cx="923.7" cy="411.7" r="5"/><circle cx="924.3" cy="420.9" r="5"/><circle cx="924.8" cy="423.7" r="5"/><circle cx="925.4" cy="423.4" r="5"/><circle cx="926.0" cy="431.2" r="5"/><circle cx="926.5" cy="425.7" r="5"/><circle cx="927.1" cy="435.1" r="5"/><circle cx="927.7" cy="423.4" r="5"/><circle cx="928.3" cy="414.1" r="5"/><circle cx="928.8" cy="417.4" r="5"/><circle cx="929.4" cy="408.0" r="5"/><circle cx="930.0" cy="435.8" r="5"/><circle cx="930.6" cy="412.9" r="5"/><circle cx="931.1" cy="424.3" r="5"/><circle cx="931.7" cy="422.7" r="5"/><circle cx="932.3" cy="418.6" r="5"/><circle cx="932.8" cy="424.4" r="5"/><circle cx="933.4" cy="420.0" r="5"/><circle cx="934.0" cy="406.5" r="5"/><circle cx="934.6" cy="427.9" r="5"/><circle cx="935.1" cy="424.7" r="5"/><circle cx="935.7" cy="432.5" r="5"/><circle cx="936.3" cy="402.4" r="5"/><circle cx="936.9" cy="401.3" r="5"/><circle cx="937.4" cy="413.0" r="5"/><circle cx="938.0" cy="407.2" r="5"/><circle cx="938.6" cy="404.6" r="5"/><circle cx="939.1" cy="402.8" r="5"/><circle cx="939.7" cy="391.5" r="5"/><circle cx="940.3" cy="387.8" r="5"/><circle cx="940.9" cy="386.5" r="5"/><circle cx="941.4" cy="366.0" r="5"/><circle cx="942.0" cy="348.8" r="5"/><circle cx="942.6" cy="331.2" r="5"/><circle cx="943.2" cy="325.4" r="5"/><circle cx="943.7" cy="302.4" r="5"/><circle cx="944.3" cy="293.4" r="5"/><circle cx="944.9" cy="284.3" r="5"/><circle cx="945.4" cy="280.2" r="5"/><circle cx="946.0" cy="270.7" r="5"/><circle cx="946.6" cy="257.9" r="5"/><circle cx="947.2" cy="260.5" r="5"/><circle cx="947.7" cy="250.2" r="5"/><circle cx="948.3" cy="243.5" r="5"/><circle cx="948.9" cy="234.0" r="5"/><circle cx="949.5" cy="228.2" r="5"/><circle cx="950.0" cy="222.6" r="5"/><circle cx="950.6" cy="217.8" r="5"/><circle cx="951.2" cy="213.5" r="5"/><circle cx="951.7" cy="207.7" r="5"/><circle cx="952.3" cy="199.3" r="5"/><circle cx="952.9" cy="194.2" r="5"/><circle cx="953.5" cy="191.9" r="5"/><circle cx="954.0" cy="190.1" r="5"/><circle cx="954.6" cy="189.1" r="5"/><circle cx="955.2" cy="182.8" r="5"/><circle cx="955.8" cy="227.4" r="5"/><circle cx="956.3" cy="233.3" r="5"/><circle cx="956.9" cy="224.5" r="5"/><circle cx="957.5" cy="205.5" r="5"/><circle cx="958.0" cy="218.5" r="5"/><circle cx="958.6" cy="194.2" r="5"/><circle cx="959.2" cy="181.2" r="5"/><circle cx="959.8" cy="191.0" r="5"/><circle cx="960.3" cy="179.6" r="5"/><circle cx="960.9" cy="196.8" r="5"/><circle cx="961.5" cy="167.2" r="5"/><circle cx="962.1" cy="191.5" r="5"/><circle cx="962.6" cy="161.3" r="5"/><circle cx="963.2" cy="146.5" r="5"/><circle cx="963.8" cy="159.8" r="5"/><circle cx="964.3" cy="159.8" r="5"/><circle cx="964.9" cy="159.8" r="5"/><circle cx="965.5" cy="142.3" r="5"/><circle cx="966.1" cy="139.2" r="5"/><circle cx="966.6" cy="139.3" r="5"/><circle cx="967.2" cy="148.8" r="5"/><circle cx="967.8" cy="155.0" r="5"/><circle cx="968.4" cy="155.9" r="5"/><circle cx="968.9" cy="148.8" r="5"/><circle cx="969.5" cy="145.9" r="5"/><circle cx="970.1" cy="127.4" r="5"/><circle cx="970.6" cy="122.0" r="5"/><circle cx="971.2" cy="126.6" r="5"/><circle cx="971.8" cy="130.7" r="5"/><circle cx="972.4" cy="158.9" r="5"/><circle cx="972.9" cy="155.2" r="5"/><circle cx="973.5" cy="174.0" r="5"/><circle cx="974.1" cy="193.6" r="5"/><circle cx="974.7" cy="188.8" r="5"/><circle cx="975.2" cy="165.6" r="5"/><circle cx="975.8" cy="174.0" r="5"/><circle cx="976.4" cy="192.1" r="5"/><circle cx="976.9" cy="181.4" r="5"/><circle cx="977.5" cy="168.1" r="5"/><circle cx="978.1" cy="152.4" r="5"/><circle cx="978.7" cy="126.1" r="5"/><circle cx="979.2" cy="132.3" r="5"/><circle cx="979.8" cy="130.2" r="5"/><circle cx="980.4" cy="161.4" r="5"/><circle cx="981.0" cy="187.8" r="5"/><circle cx="981.5" cy="169.0" r="5"/><circle cx="982.1" cy="148.2" r="5"/><circle cx="982.7" cy="183.5" r="5"/><circle cx="983.2" cy="143.0" r="5"/><circle cx="983.8" cy="152.2" r="5"/><circle cx="984.4" cy="146.2" r="5"/><circle cx="985.0" cy="127.6" r="5"/><circle cx="985.5" cy="160.7" r="5"/><circle cx="986.1" cy="126.1" r="5"/><circle cx="986.7" cy="125.9" r="5"/><circle cx="987.3" cy="131.2" r="5"/><circle cx="987.8" cy="122.7" r="5"/><circle cx="988.4" cy="179.8" r="5"/><circle cx="989.0" cy="137.5" r="5"/><circle cx="989.5" cy="150.1" r="5"/><circle cx="990.1" cy="179.9" r="5"/><circle cx="990.7" cy="157.2" r="5"/><circle cx="991.3" cy="170.6" r="5"/><circle cx="991.8" cy="156.8" r="5"/><circle cx="992.4" cy="182.1" r="5"/><circle cx="993.0" cy="156.4" r="5"/><circle cx="993.6" cy="153.7" r="5"/><circle cx="994.1" cy="132.2" r="5"/><circle cx="994.7" cy="153.4" r="5"/><circle cx="995.3" cy="154.4" r="5"/><circle cx="995.8" cy="156.6" r="5"/><circle cx="996.4" cy="188.6" r="5"/><circle cx="997.0" cy="190.5" r="5"/><circle cx="997.6" cy="204.5" r="5"/><circle cx="998.1" cy="186.0" r="5"/><circle cx="998.7" cy="195.1" r="5"/><circle cx="999.3" cy="152.7" r="5"/><circle cx="999.9" cy="152.1" r="5"/><circle cx="1000.4" cy="140.1" r="5"/><circle cx="1001.0" cy="138.5" r="5"/><circle cx="1001.6" cy="151.0" r="5"/><circle cx="1002.1" cy="149.1" r="5"/><circle cx="1002.7" cy="131.0" r="5"/><circle cx="1003.3" cy="140.2" r="5"/><circle cx="1003.9" cy="133.8" r="5"/><circle cx="1004.4" cy="151.7" r="5"/><circle cx="1005.0" cy="177.2" r="5"/><circle cx="1005.6" cy="149.2" r="5"/><circle cx="1006.2" cy="153.1" r="5"/><circle cx="1006.7" cy="149.2" r="5"/><circle cx="1007.3" cy="136.7" r="5"/><circle cx="1007.9" cy="155.1" r="5"/><circle cx="1008.4" cy="179.8" r="5"/><circle cx="1009.0" cy="182.8" r="5"/><circle cx="1009.6" cy="210.2" r="5"/><circle cx="1010.2" cy="204.6" r="5"/><circle cx="1010.7" cy="172.0" r="5"/><circle cx="1011.3" cy="180.9" r="5"/><circle cx="1011.9" cy="159.6" r="5"/><circle cx="1012.5" cy="170.4" r="5"/><circle cx="1013.0" cy="170.7" r="5"/><circle cx="1013.6" cy="180.9" r="5"/><circle cx="1014.2" cy="171.0" r="5"/><circle cx="1014.7" cy="194.9" r="5"/><circle cx="1015.3" cy="178.5" r="5"/><circle cx="1015.9" cy="142.6" r="5"/><circle cx="1016.5" cy="162.4" r="5"/><circle cx="1017.0" cy="178.6" r="5"/><circle cx="1017.6" cy="172.8" r="5"/><circle cx="1018.2" cy="133.2" r="5"/><circle cx="1018.8" cy="159.1" r="5"/><circle cx="1019.3" cy="118.3" r="5"/><circle cx="1019.9" cy="126.7" r="5"/><circle cx="1020.5" cy="126.4" r="5"/><circle cx="1021.1" cy="144.0" r="5"/><circle cx="1021.6" cy="146.5" r="5"/><circle cx="1022.2" cy="148.3" r="5"/><circle cx="1022.8" cy="169.7" r="5"/><circle cx="1023.3" cy="159.2" r="5"/><circle cx="1023.9" cy="152.7" r="5"/><circle cx="1024.5" cy="178.1" r="5"/><circle cx="1025.1" cy="180.5" r="5"/><circle cx="1025.6" cy="161.6" r="5"/><circle cx="1026.2" cy="175.3" r="5"/><circle cx="1026.8" cy="183.0" r="5"/><circle cx="1027.4" cy="203.7" r="5"/><circle cx="1027.9" cy="194.6" r="5"/><circle cx="1028.5" cy="177.2" r="5"/><circle cx="1029.1" cy="157.6" r="5"/><circle cx="1029.6" cy="149.5" r="5"/><circle cx="1030.2" cy="158.8" r="5"/><circle cx="1030.8" cy="140.0" r="5"/><circle cx="1031.4" cy="165.8" r="5"/><circle cx="1031.9" cy="143.4" r="5"/><circle cx="1032.5" cy="168.0" r="5"/><circle cx="1033.1" cy="158.3" r="5"/><circle cx="1033.7" cy="141.9" r="5"/><circle cx="1034.2" cy="163.1" r="5"/><circle cx="1034.8" cy="145.4" r="5"/><circle cx="1035.4" cy="169.9" r="5"/><circle cx="1035.9" cy="158.4" r="5"/><circle cx="1036.5" cy="150.8" r="5"/><circle cx="1037.1" cy="192.0" r="5"/><circle cx="1037.7" cy="188.2" r="5"/><circle cx="1038.2" cy="177.5" r="5"/><circle cx="1038.8" cy="167.0" r="5"/><circle cx="1039.4" cy="155.6" r="5"/><circle cx="1040.0" cy="136.2" r="5"/><circle cx="1040.5" cy="125.4" r="5"/><circle cx="1041.1" cy="136.6" r="5"/><circle cx="1041.7" cy="145.2" r="5"/><circle cx="1042.2" cy="177.9" r="5"/><circle cx="1042.8" cy="173.7" r="5"/><circle cx="1043.4" cy="156.3" r="5"/><circle cx="1044.0" cy="190.6" r="5"/><circle cx="1044.5" cy="154.0" r="5"/><circle cx="1045.1" cy="162.6" r="5"/><circle cx="1045.7" cy="163.7" r="5"/><circle cx="1046.3" cy="206.8" r="5"/><circle cx="1046.8" cy="201.1" r="5"/><circle cx="1047.4" cy="208.7" r="5"/><circle cx="1048.0" cy="211.5" r="5"/><circle cx="1048.5" cy="174.0" r="5"/><circle cx="1049.1" cy="168.2" r="5"/><circle cx="1049.7" cy="153.2" r="5"/><circle cx="1050.3" cy="158.1" r="5"/><circle cx="1050.8" cy="150.4" r="5"/><circle cx="1051.4" cy="174.0" r="5"/><circle cx="1052.0" cy="153.9" r="5"/><circle cx="1052.6" cy="181.3" r="5"/><circle cx="1053.1" cy="174.1" r="5"/><circle cx="1053.7" cy="192.4" r="5"/><circle cx="1054.3" cy="181.5" r="5"/><circle cx="1054.8" cy="210.1" r="5"/><circle cx="1055.4" cy="183.6" r="5"/><circle cx="1056.0" cy="179.1" r="5"/><circle cx="1056.6" cy="202.0" r="5"/><circle cx="1057.1" cy="192.3" r="5"/><circle cx="1057.7" cy="152.9" r="5"/><circle cx="1058.3" cy="174.2" r="5"/><circle cx="1058.9" cy="188.7" r="5"/><circle cx="1059.4" cy="176.7" r="5"/><circle cx="1060.0" cy="183.9" r="5"/><circle cx="1060.6" cy="181.6" r="5"/><circle cx="1061.1" cy="171.7" r="5"/><circle cx="1061.7" cy="185.4" r="5"/><circle cx="1062.3" cy="177.7" r="5"/><circle cx="1062.9" cy="176.9" r="5"/><circle cx="1063.4" cy="193.7" r="5"/><circle cx="1064.0" cy="153.8" r="5"/><circle cx="1064.6" cy="164.6" r="5"/><circle cx="1065.2" cy="179.3" r="5"/><circle cx="1065.7" cy="179.7" r="5"/><circle cx="1066.3" cy="193.8" r="5"/><circle cx="1066.9" cy="182.9" r="5"/><circle cx="1067.4" cy="204.3" r="5"/><circle cx="1068.0" cy="199.0" r="5"/><circle cx="1068.6" cy="203.9" r="5"/><circle cx="1069.2" cy="206.4" r="5"/><circle cx="1069.7" cy="187.2" r="5"/><circle cx="1070.3" cy="169.8" r="5"/><circle cx="1070.9" cy="171.3" r="5"/><circle cx="1071.5" cy="187.2" r="5"/><circle cx="1072.0" cy="177.1" r="5"/><circle cx="1072.6" cy="151.9" r="5"/><circle cx="1073.2" cy="161.5" r="5"/><circle cx="1073.7" cy="170.8" r="5"/><circle cx="1074.3" cy="196.5" r="5"/><circle cx="1074.9" cy="206.9" r="5"/><circle cx="1075.5" cy="189.0" r="5"/><circle cx="1076.0" cy="201.6" r="5"/><circle cx="1076.6" cy="197.9" r="5"/><circle cx="1077.2" cy="209.6" r="5"/><circle cx="1077.8" cy="222.4" r="5"/><circle cx="1078.3" cy="204.5" r="5"/><circle cx="1078.9" cy="184.4" r="5"/><circle cx="1079.5" cy="187.6" r="5"/><circle cx="1080.0" cy="164.1" r="5"/><circle cx="1080.6" cy="180.3" r="5"/><circle cx="1081.2" cy="161.6" r="5"/><circle cx="1081.8" cy="171.7" r="5"/><circle cx="1082.3" cy="182.3" r="5"/><circle cx="1082.9" cy="181.6" r="5"/><circle cx="1083.5" cy="188.4" r="5"/><circle cx="1084.1" cy="180.0" r="5"/><circle cx="1084.6" cy="179.5" r="5"/><circle cx="1085.2" cy="192.3" r="5"/><circle cx="1085.8" cy="192.9" r="5"/><circle cx="1086.3" cy="217.2" r="5"/><circle cx="1086.9" cy="192.0" r="5"/><circle cx="1087.5" cy="206.4" r="5"/><circle cx="1088.1" cy="205.4" r="5"/><circle cx="1088.6" cy="212.1" r="5"/><circle cx="1089.2" cy="226.9" r="5"/><circle cx="1089.8" cy="210.9" r="5"/><circle cx="1090.4" cy="201.1" r="5"/><circle cx="1090.9" cy="228.4" r="5"/><circle cx="1091.5" cy="195.2" r="5"/><circle cx="1092.1" cy="200.1" r="5"/><circle cx="1092.6" cy="206.5" r="5"/><circle cx="1093.2" cy="195.6" r="5"/><circle cx="1093.8" cy="203.5" r="5"/><circle cx="1094.4" cy="178.8" r="5"/><circle cx="1094.9" cy="178.4" r="5"/><circle cx="1095.5" cy="191.6" r="5"/><circle cx="1096.1" cy="212.2" r="5"/><circle cx="1096.7" cy="204.7" r="5"/><circle cx="1097.2" cy="200.7" r="5"/><circle cx="1097.8" cy="203.5" r="5"/><circle cx="1098.4" cy="159.4" r="5"/><circle cx="1098.9" cy="183.3" r="5"/><circle cx="1099.5" cy="178.1" r="5"/><circle cx="1100.1" cy="181.9" r="5"/><circle cx="1100.7" cy="190.6" r="5"/><circle cx="1101.2" cy="189.0" r="5"/><circle cx="1101.8" cy="190.0" r="5"/><circle cx="1102.4" cy="195.4" r="5"/><circle cx="1103.0" cy="205.6" r="5"/><circle cx="1103.5" cy="222.1" r="5"/><circle cx="1104.1" cy="228.7" r="5"/><circle cx="1104.7" cy="195.5" r="5"/><circle cx="1105.2" cy="205.9" r="5"/><circle cx="1105.8" cy="185.0" r="5"/><circle cx="1106.4" cy="177.3" r="5"/><circle cx="1107.0" cy="173.8" r="5"/><circle cx="1107.5" cy="168.9" r="5"/><circle cx="1108.1" cy="174.0" r="5"/><circle cx="1108.7" cy="173.6" r="5"/><circle cx="1109.3" cy="182.9" r="5"/><circle cx="1109.8" cy="178.2" r="5"/><circle cx="1110.4" cy="205.4" r="5"/><circle cx="1111.0" cy="188.3" r="5"/><circle cx="1111.5" cy="181.8" r="5"/><circle cx="1112.1" cy="181.4" r="5"/><circle cx="1112.7" cy="206.0" r="5"/><circle cx="1113.3" cy="191.5" r="5"/><circle cx="1113.8" cy="203.7" r="5"/><circle cx="1114.4" cy="214.3" r="5"/><circle cx="1115.0" cy="226.7" r="5"/><circle cx="1115.6" cy="233.8" r="5"/><circle cx="1116.1" cy="211.1" r="5"/><circle cx="1116.7" cy="223.3" r="5"/><circle cx="1117.3" cy="225.1" r="5"/><circle cx="1117.8" cy="241.1" r="5"/><circle cx="1118.4" cy="227.2" r="5"/><circle cx="1119.0" cy="243.8" r="5"/><circle cx="1119.6" cy="190.7" r="5"/><circle cx="1120.1" cy="232.7" r="5"/><circle cx="1120.7" cy="236.3" r="5"/><circle cx="1121.3" cy="239.3" r="5"/><circle cx="1121.9" cy="234.3" r="5"/><circle cx="1122.4" cy="230.4" r="5"/><circle cx="1123.0" cy="211.4" r="5"/><circle cx="1123.6" cy="202.5" r="5"/><circle cx="1124.1" cy="192.8" r="5"/><circle cx="1124.7" cy="218.2" r="5"/><circle cx="1125.3" cy="200.6" r="5"/><circle cx="1125.9" cy="182.7" r="5"/><circle cx="1126.4" cy="192.1" r="5"/><circle cx="1127.0" cy="215.5" r="5"/><circle cx="1127.6" cy="227.3" r="5"/><circle cx="1128.2" cy="212.0" r="5"/><circle cx="1128.7" cy="225.5" r="5"/><circle cx="1129.3" cy="239.2" r="5"/><circle cx="1129.9" cy="212.3" r="5"/><circle cx="1130.4" cy="227.0" r="5"/><circle cx="1131.0" cy="204.5" r="5"/><circle cx="1131.6" cy="217.5" r="5"/><circle cx="1132.2" cy="207.9" r="5"/><circle cx="1132.7" cy="200.5" r="5"/><circle cx="1133.3" cy="213.1" r="5"/><circle cx="1133.9" cy="202.0" r="5"/><circle cx="1134.5" cy="202.3" r="5"/><circle cx="1135.0" cy="213.0" r="5"/><circle cx="1135.6" cy="219.8" r="5"/><circle cx="1136.2" cy="208.8" r="5"/><circle cx="1136.7" cy="195.3" r="5"/><circle cx="1137.3" cy="198.7" r="5"/><circle cx="1137.9" cy="228.6" r="5"/><circle cx="1138.5" cy="228.6" r="5"/><circle cx="1139.0" cy="221.5" r="5"/><circle cx="1139.6" cy="239.4" r="5"/><circle cx="1140.2" cy="218.4" r="5"/><circle cx="1140.8" cy="228.9" r="5"/><circle cx="1141.3" cy="255.3" r="5"/><circle cx="1141.9" cy="244.9" r="5"/><circle cx="1142.5" cy="230.3" r="5"/><circle cx="1143.0" cy="229.4" r="5"/><circle cx="1143.6" cy="252.8" r="5"/><circle cx="1144.2" cy="214.0" r="5"/><circle cx="1144.8" cy="233.9" r="5"/><circle cx="1145.3" cy="238.0" r="5"/><circle cx="1145.9" cy="232.6" r="5"/><circle cx="1146.5" cy="235.6" r="5"/><circle cx="1147.1" cy="238.0" r="5"/><circle cx="1147.6" cy="236.5" r="5"/><circle cx="1148.2" cy="222.9" r="5"/><circle cx="1148.8" cy="223.6" r="5"/><circle cx="1149.3" cy="230.4" r="5"/><circle cx="1149.9" cy="239.8" r="5"/><circle cx="1150.5" cy="208.2" r="5"/><circle cx="1151.1" cy="212.8" r="5"/><circle cx="1151.6" cy="205.9" r="5"/><circle cx="1152.2" cy="208.4" r="5"/><circle cx="1152.8" cy="208.6" r="5"/><circle cx="1153.4" cy="196.4" r="5"/><circle cx="1153.9" cy="195.9" r="5"/><circle cx="1154.5" cy="205.3" r="5"/><circle cx="1155.1" cy="205.3" r="5"/><circle cx="1155.7" cy="239.0" r="5"/><circle cx="1156.2" cy="229.1" r="5"/><circle cx="1156.8" cy="205.0" r="5"/><circle cx="1157.4" cy="209.4" r="5"/><circle cx="1157.9" cy="214.3" r="5"/><circle cx="1158.5" cy="199.5" r="5"/><circle cx="1159.1" cy="213.8" r="5"/><circle cx="1159.7" cy="213.9" r="5"/><circle cx="1160.2" cy="226.2" r="5"/><circle cx="1160.8" cy="254.4" r="5"/><circle cx="1161.4" cy="206.4" r="5"/><circle cx="1162.0" cy="206.9" r="5"/><circle cx="1162.5" cy="206.7" r="5"/><circle cx="1163.1" cy="228.0" r="5"/><circle cx="1163.7" cy="224.9" r="5"/><circle cx="1164.2" cy="195.0" r="5"/><circle cx="1164.8" cy="230.5" r="5"/><circle cx="1165.4" cy="234.3" r="5"/><circle cx="1166.0" cy="191.7" r="5"/><circle cx="1166.5" cy="195.4" r="5"/><circle cx="1167.1" cy="202.8" r="5"/><circle cx="1167.7" cy="199.7" r="5"/><circle cx="1168.3" cy="225.0" r="5"/><circle cx="1168.8" cy="203.7" r="5"/><circle cx="1169.4" cy="230.1" r="5"/><circle cx="1170.0" cy="221.6" r="5"/><circle cx="1170.5" cy="240.1" r="5"/><circle cx="1171.1" cy="251.9" r="5"/><circle cx="1171.7" cy="244.6" r="5"/><circle cx="1172.3" cy="242.9" r="5"/><circle cx="1172.8" cy="249.2" r="5"/><circle cx="1173.4" cy="248.8" r="5"/><circle cx="1174.0" cy="227.5" r="5"/><circle cx="1174.6" cy="248.5" r="5"/><circle cx="1175.1" cy="240.2" r="5"/><circle cx="1175.7" cy="228.7" r="5"/><circle cx="1176.3" cy="226.8" r="5"/><circle cx="1176.8" cy="218.6" r="5"/><circle cx="1177.4" cy="215.0" r="5"/><circle cx="1178.0" cy="199.6" r="5"/><circle cx="1178.6" cy="237.1" r="5"/><circle cx="1179.1" cy="233.5" r="5"/><circle cx="1179.7" cy="216.8" r="5"/><circle cx="1180.3" cy="208.4" r="5"/><circle cx="1180.9" cy="206.0" r="5"/><circle cx="1181.4" cy="217.5" r="5"/><circle cx="1182.0" cy="227.8" r="5"/><circle cx="1182.6" cy="222.6" r="5"/><circle cx="1183.1" cy="236.4" r="5"/><circle cx="1183.7" cy="260.7" r="5"/><circle cx="1184.3" cy="229.0" r="5"/><circle cx="1184.9" cy="248.5" r="5"/><circle cx="1185.4" cy="230.5" r="5"/><circle cx="1186.0" cy="243.2" r="5"/><circle cx="1186.6" cy="247.7" r="5"/><circle cx="1187.2" cy="244.2" r="5"/><circle cx="1187.7" cy="211.5" r="5"/><circle cx="1188.3" cy="228.4" r="5"/><circle cx="1188.9" cy="214.6" r="5"/><circle cx="1189.4" cy="205.8" r="5"/><circle cx="1190.0" cy="200.3" r="5"/><circle cx="1190.6" cy="215.5" r="5"/><circle cx="1191.2" cy="211.1" r="5"/><circle cx="1191.7" cy="215.7" r="5"/><circle cx="1192.3" cy="211.7" r="5"/><circle cx="1192.9" cy="231.0" r="5"/><circle cx="1193.5" cy="232.3" r="5"/><circle cx="1194.0" cy="220.0" r="5"/><circle cx="1194.6" cy="248.1" r="5"/><circle cx="1195.2" cy="224.2" r="5"/><circle cx="1195.7" cy="231.0" r="5"/><circle cx="1196.3" cy="239.2" r="5"/><circle cx="1196.9" cy="230.3" r="5"/><circle cx="1197.5" cy="233.8" r="5"/><circle cx="1198.0" cy="206.2" r="5"/><circle cx="1198.6" cy="222.7" r="5"/><circle cx="1199.2" cy="216.1" r="5"/><circle cx="1199.8" cy="247.2" r="5"/><circle cx="1200.3" cy="255.5" r="5"/><circle cx="1200.9" cy="240.6" r="5"/><circle cx="1201.5" cy="252.8" r="5"/><circle cx="1202.0" cy="240.2" r="5"/><circle cx="1202.6" cy="230.6" r="5"/><circle cx="1203.2" cy="250.0" r="5"/><circle cx="1203.8" cy="254.4" r="5"/><circle cx="1204.3" cy="236.1" r="5"/><circle cx="1204.9" cy="248.5" r="5"/><circle cx="1205.5" cy="236.4" r="5"/><circle cx="1206.1" cy="227.7" r="5"/><circle cx="1206.6" cy="240.1" r="5"/><circle cx="1207.2" cy="224.4" r="5"/><circle cx="1207.8" cy="243.0" r="5"/><circle cx="1208.3" cy="242.9" r="5"/><circle cx="1208.9" cy="231.8" r="5"/><circle cx="1209.5" cy="224.4" r="5"/><circle cx="1210.1" cy="232.4" r="5"/><circle cx="1210.6" cy="227.4" r="5"/><circle cx="1211.2" cy="208.1" r="5"/><circle cx="1211.8" cy="197.3" r="5"/><circle cx="1212.4" cy="214.5" r="5"/><circle cx="1212.9" cy="211.2" r="5"/><circle cx="1213.5" cy="223.6" r="5"/><circle cx="1214.1" cy="219.8" r="5"/><circle cx="1214.6" cy="231.7" r="5"/><circle cx="1215.2" cy="243.3" r="5"/><circle cx="1215.8" cy="258.9" r="5"/><circle cx="1216.4" cy="234.5" r="5"/><circle cx="1216.9" cy="265.0" r="5"/><circle cx="1217.5" cy="251.7" r="5"/><circle cx="1218.1" cy="256.3" r="5"/><circle cx="1218.7" cy="249.9" r="5"/><circle cx="1219.2" cy="270.3" r="5"/><circle cx="1219.8" cy="264.8" r="5"/><circle cx="1220.4" cy="259.3" r="5"/><circle cx="1220.9" cy="250.6" r="5"/><circle cx="1221.5" cy="256.1" r="5"/><circle cx="1222.1" cy="267.0" r="5"/><circle cx="1222.7" cy="261.8" r="5"/><circle cx="1223.2" cy="261.7" r="5"/><circle cx="1223.8" cy="210.9" r="5"/><circle cx="1224.4" cy="239.6" r="5"/><circle cx="1225.0" cy="228.8" r="5"/><circle cx="1225.5" cy="235.8" r="5"/><circle cx="1226.1" cy="212.8" r="5"/><circle cx="1226.7" cy="217.5" r="5"/><circle cx="1227.2" cy="224.4" r="5"/><circle cx="1227.8" cy="233.5" r="5"/><circle cx="1228.4" cy="220.8" r="5"/><circle cx="1229.0" cy="233.7" r="5"/><circle cx="1229.5" cy="223.0" r="5"/><circle cx="1230.1" cy="253.0" r="5"/><circle cx="1230.7" cy="239.2" r="5"/><circle cx="1231.3" cy="239.7" r="5"/><circle cx="1231.8" cy="211.8" r="5"/><circle cx="1232.4" cy="202.3" r="5"/><circle cx="1233.0" cy="216.1" r="5"/><circle cx="1233.5" cy="202.6" r="5"/><circle cx="1234.1" cy="213.1" r="5"/><circle cx="1234.7" cy="214.2" r="5"/><circle cx="1235.3" cy="205.1" r="5"/><circle cx="1235.8" cy="212.5" r="5"/><circle cx="1236.4" cy="206.7" r="5"/><circle cx="1237.0" cy="195.3" r="5"/><circle cx="1237.6" cy="217.2" r="5"/><circle cx="1238.1" cy="195.0" r="5"/><circle cx="1238.7" cy="233.7" r="5"/><circle cx="1239.3" cy="210.7" r="5"/><circle cx="1239.8" cy="238.3" r="5"/><circle cx="1240.4" cy="237.1" r="5"/><circle cx="1241.0" cy="224.2" r="5"/><circle cx="1241.6" cy="210.5" r="5"/><circle cx="1242.1" cy="219.5" r="5"/><circle cx="1242.7" cy="214.5" r="5"/><circle cx="1243.3" cy="240.4" r="5"/><circle cx="1243.9" cy="225.0" r="5"/><circle cx="1244.4" cy="236.6" r="5"/><circle cx="1245.0" cy="239.3" r="5"/><circle cx="1245.6" cy="222.9" r="5"/><circle cx="1246.1" cy="229.0" r="5"/><circle cx="1246.7" cy="237.8" r="5"/><circle cx="1247.3" cy="244.5" r="5"/><circle cx="1247.9" cy="252.2" r="5"/><circle cx="1248.4" cy="252.6" r="5"/><circle cx="1249.0" cy="251.1" r="5"/><circle cx="1249.6" cy="242.9" r="5"/><circle cx="1250.2" cy="251.6" r="5"/><circle cx="1250.7" cy="253.6" r="5"/><circle cx="1251.3" cy="249.0" r="5"/><circle cx="1251.9" cy="252.6" r="5"/><circle cx="1252.4" cy="222.9" r="5"/><circle cx="1253.0" cy="234.3" r="5"/><circle cx="1253.6" cy="202.8" r="5"/><circle cx="1254.2" cy="216.3" r="5"/><circle cx="1254.7" cy="208.8" r="5"/><circle cx="1255.3" cy="214.8" r="5"/><circle cx="1255.9" cy="203.5" r="5"/><circle cx="1256.5" cy="217.2" r="5"/><circle cx="1257.0" cy="217.6" r="5"/><circle cx="1257.6" cy="221.7" r="5"/><circle cx="1258.2" cy="221.0" r="5"/><circle cx="1258.7" cy="224.3" r="5"/><circle cx="1259.3" cy="229.3" r="5"/><circle cx="1259.9" cy="237.4" r="5"/><circle cx="1260.5" cy="232.3" r="5"/><circle cx="1261.0" cy="224.8" r="5"/><circle cx="1261.6" cy="251.2" r="5"/><circle cx="1262.2" cy="261.5" r="5"/><circle cx="1262.8" cy="259.6" r="5"/><circle cx="1263.3" cy="235.7" r="5"/><circle cx="1263.9" cy="237.8" r="5"/><circle cx="1264.5" cy="253.8" r="5"/><circle cx="1265.0" cy="253.3" r="5"/><circle cx="1265.6" cy="250.6" r="5"/><circle cx="1266.2" cy="229.2" r="5"/><circle cx="1266.8" cy="233.7" r="5"/><circle cx="1267.3" cy="249.9" r="5"/><circle cx="1267.9" cy="233.4" r="5"/><circle cx="1268.5" cy="227.0" r="5"/><circle cx="1269.1" cy="233.1" r="5"/><circle cx="1269.6" cy="228.5" r="5"/><circle cx="1270.2" cy="224.3" r="5"/><circle cx="1270.8" cy="223.7" r="5"/><circle cx="1271.3" cy="223.4" r="5"/><circle cx="1271.9" cy="236.1" r="5"/><circle cx="1272.5" cy="224.4" r="5"/><circle cx="1273.1" cy="209.3" r="5"/><circle cx="1273.6" cy="212.9" r="5"/><circle cx="1274.2" cy="242.9" r="5"/><circle cx="1274.8" cy="225.7" r="5"/><circle cx="1275.4" cy="224.9" r="5"/><circle cx="1275.9" cy="239.1" r="5"/><circle cx="1276.5" cy="216.2" r="5"/><circle cx="1277.1" cy="215.6" r="5"/><circle cx="1277.6" cy="226.0" r="5"/><circle cx="1278.2" cy="250.5" r="5"/><circle cx="1278.8" cy="221.0" r="5"/><circle cx="1279.4" cy="246.1" r="5"/><circle cx="1279.9" cy="252.3" r="5"/><circle cx="1280.5" cy="256.3" r="5"/><circle cx="1281.1" cy="256.1" r="5"/><circle cx="1281.7" cy="259.8" r="5"/><circle cx="1282.2" cy="234.9" r="5"/><circle cx="1282.8" cy="217.4" r="5"/><circle cx="1283.4" cy="239.7" r="5"/><circle cx="1283.9" cy="230.1" r="5"/><circle cx="1284.5" cy="252.7" r="5"/><circle cx="1285.1" cy="236.9" r="5"/><circle cx="1285.7" cy="245.6" r="5"/><circle cx="1286.2" cy="229.9" r="5"/><circle cx="1286.8" cy="216.4" r="5"/><circle cx="1287.4" cy="219.3" r="5"/><circle cx="1288.0" cy="258.5" r="5"/><circle cx="1288.5" cy="229.0" r="5"/><circle cx="1289.1" cy="229.5" r="5"/><circle cx="1289.7" cy="229.7" r="5"/><circle cx="1290.3" cy="246.1" r="5"/><circle cx="1290.8" cy="255.0" r="5"/><circle cx="1291.4" cy="274.2" r="5"/><circle cx="1292.0" cy="258.1" r="5"/><circle cx="1292.5" cy="247.3" r="5"/><circle cx="1293.1" cy="268.9" r="5"/><circle cx="1293.7" cy="270.2" r="5"/><circle cx="1294.3" cy="273.5" r="5"/><circle cx="1294.8" cy="274.1" r="5"/><circle cx="1295.4" cy="280.0" r="5"/><circle cx="1296.0" cy="259.4" r="5"/><circle cx="1296.6" cy="258.2" r="5"/><circle cx="1297.1" cy="239.4" r="5"/><circle cx="1297.7" cy="239.6" r="5"/><circle cx="1298.3" cy="225.8" r="5"/><circle cx="1298.8" cy="203.4" r="5"/><circle cx="1299.4" cy="212.5" r="5"/><circle cx="1300.0" cy="210.3" r="5"/><circle cx="1300.6" cy="210.7" r="5"/><circle cx="1301.1" cy="208.6" r="5"/><circle cx="1301.7" cy="227.9" r="5"/><circle cx="1302.3" cy="232.6" r="5"/><circle cx="1302.9" cy="218.1" r="5"/><circle cx="1303.4" cy="220.5" r="5"/><circle cx="1304.0" cy="240.6" r="5"/><circle cx="1304.6" cy="262.3" r="5"/><circle cx="1305.1" cy="229.0" r="5"/><circle cx="1305.7" cy="221.1" r="5"/><circle cx="1306.3" cy="228.8" r="5"/><circle cx="1306.9" cy="233.0" r="5"/><circle cx="1307.4" cy="244.1" r="5"/><circle cx="1308.0" cy="224.3" r="5"/><circle cx="1308.6" cy="244.7" r="5"/><circle cx="1309.2" cy="240.3" r="5"/><circle cx="1309.7" cy="214.5" r="5"/><circle cx="1310.3" cy="211.8" r="5"/><circle cx="1310.9" cy="223.6" r="5"/><circle cx="1311.4" cy="220.1" r="5"/><circle cx="1312.0" cy="226.8" r="5"/><circle cx="1312.6" cy="245.2" r="5"/><circle cx="1313.2" cy="248.1" r="5"/><circle cx="1313.7" cy="259.6" r="5"/><circle cx="1314.3" cy="270.8" r="5"/><circle cx="1314.9" cy="253.0" r="5"/><circle cx="1315.5" cy="265.4" r="5"/><circle cx="1316.0" cy="262.2" r="5"/><circle cx="1316.6" cy="272.3" r="5"/><circle cx="1317.2" cy="252.3" r="5"/><circle cx="1317.7" cy="237.0" r="5"/><circle cx="1318.3" cy="224.0" r="5"/><circle cx="1318.9" cy="225.2" r="5"/><circle cx="1319.5" cy="224.7" r="5"/><circle cx="1320.0" cy="207.1" r="5"/><circle cx="1320.6" cy="213.0" r="5"/><circle cx="1321.2" cy="214.4" r="5"/><circle cx="1321.8" cy="222.3" r="5"/><circle cx="1322.3" cy="211.0" r="5"/><circle cx="1322.9" cy="232.1" r="5"/><circle cx="1323.5" cy="241.4" r="5"/><circle cx="1324.0" cy="239.7" r="5"/><circle cx="1324.6" cy="250.4" r="5"/><circle cx="1325.2" cy="239.9" r="5"/><circle cx="1325.8" cy="243.1" r="5"/><circle cx="1326.3" cy="236.9" r="5"/><circle cx="1326.9" cy="243.6" r="5"/><circle cx="1327.5" cy="244.3" r="5"/><circle cx="1328.1" cy="213.7" r="5"/><circle cx="1328.6" cy="250.4" r="5"/><circle cx="1329.2" cy="235.8" r="5"/><circle cx="1329.8" cy="260.3" r="5"/><circle cx="1330.3" cy="263.9" r="5"/><circle cx="1330.9" cy="263.6" r="5"/><circle cx="1331.5" cy="273.5" r="5"/><circle cx="1332.1" cy="259.6" r="5"/><circle cx="1332.6" cy="264.7" r="5"/><circle cx="1333.2" cy="251.6" r="5"/><circle cx="1333.8" cy="268.7" r="5"/><circle cx="1334.4" cy="259.0" r="5"/><circle cx="1334.9" cy="251.7" r="5"/><circle cx="1335.5" cy="254.3" r="5"/><circle cx="1336.1" cy="227.0" r="5"/><circle cx="1336.6" cy="219.3" r="5"/><circle cx="1337.2" cy="232.8" r="5"/><circle cx="1337.8" cy="245.9" r="5"/><circle cx="1338.4" cy="224.5" r="5"/><circle cx="1338.9" cy="215.7" r="5"/><circle cx="1339.5" cy="228.8" r="5"/><circle cx="1340.1" cy="223.9" r="5"/><circle cx="1340.7" cy="239.1" r="5"/><circle cx="1341.2" cy="224.8" r="5"/><circle cx="1341.8" cy="210.2" r="5"/><circle cx="1342.4" cy="233.9" r="5"/><circle cx="1342.9" cy="232.8" r="5"/><circle cx="1343.5" cy="234.6" r="5"/><circle cx="1344.1" cy="217.6" r="5"/><circle cx="1344.7" cy="222.2" r="5"/><circle cx="1345.2" cy="233.4" r="5"/><circle cx="1345.8" cy="241.2" r="5"/><circle cx="1346.4" cy="217.3" r="5"/><circle cx="1347.0" cy="225.8" r="5"/><circle cx="1347.5" cy="224.9" r="5"/><circle cx="1348.1" cy="252.1" r="5"/><circle cx="1348.7" cy="235.8" r="5"/><circle cx="1349.2" cy="233.5" r="5"/><circle cx="1349.8" cy="254.9" r="5"/><circle cx="1350.4" cy="254.3" r="5"/><circle cx="1351.0" cy="260.7" r="5"/><circle cx="1351.5" cy="242.0" r="5"/><circle cx="1352.1" cy="261.1" r="5"/><circle cx="1352.7" cy="235.4" r="5"/><circle cx="1353.3" cy="256.6" r="5"/><circle cx="1353.8" cy="253.4" r="5"/><circle cx="1354.4" cy="224.6" r="5"/><circle cx="1355.0" cy="253.6" r="5"/><circle cx="1355.5" cy="260.3" r="5"/><circle cx="1356.1" cy="235.5" r="5"/><circle cx="1356.7" cy="243.8" r="5"/><circle cx="1357.3" cy="255.3" r="5"/><circle cx="1357.8" cy="245.7" r="5"/><circle cx="1358.4" cy="257.8" r="5"/><circle cx="1359.0" cy="267.5" r="5"/><circle cx="1359.6" cy="236.9" r="5"/><circle cx="1360.1" cy="221.0" r="5"/><circle cx="1360.7" cy="239.3" r="5"/><circle cx="1361.3" cy="231.5" r="5"/><circle cx="1361.8" cy="239.0" r="5"/><circle cx="1362.4" cy="255.1" r="5"/><circle cx="1363.0" cy="248.7" r="5"/><circle cx="1363.6" cy="235.2" r="5"/><circle cx="1364.1" cy="236.3" r="5"/><circle cx="1364.7" cy="235.6" r="5"/><circle cx="1365.3" cy="231.1" r="5"/><circle cx="1365.9" cy="238.1" r="5"/><circle cx="1366.4" cy="222.9" r="5"/><circle cx="1367.0" cy="236.2" r="5"/><circle cx="1367.6" cy="234.7" r="5"/><circle cx="1368.1" cy="257.4" r="5"/><circle cx="1368.7" cy="250.0" r="5"/><circle cx="1369.3" cy="259.8" r="5"/><circle cx="1369.9" cy="235.7" r="5"/><circle cx="1370.4" cy="234.7" r="5"/><circle cx="1371.0" cy="231.5" r="5"/><circle cx="1371.6" cy="229.7" r="5"/><circle cx="1372.2" cy="221.2" r="5"/><circle cx="1372.7" cy="219.2" r="5"/><circle cx="1373.3" cy="221.4" r="5"/><circle cx="1373.9" cy="224.0" r="5"/><circle cx="1374.4" cy="229.6" r="5"/><circle cx="1375.0" cy="224.4" r="5"/><circle cx="1375.6" cy="245.1" r="5"/><circle cx="1376.2" cy="249.3" r="5"/><circle cx="1376.7" cy="242.6" r="5"/><circle cx="1377.3" cy="236.0" r="5"/><circle cx="1377.9" cy="237.9" r="5"/><circle cx="1378.5" cy="233.6" r="5"/><circle cx="1379.0" cy="220.5" r="5"/><circle cx="1379.6" cy="251.6" r="5"/><circle cx="1380.2" cy="244.9" r="5"/><circle cx="1380.7" cy="241.7" r="5"/><circle cx="1381.3" cy="229.3" r="5"/><circle cx="1381.9" cy="251.3" r="5"/><circle cx="1382.5" cy="228.6" r="5"/><circle cx="1383.0" cy="220.1" r="5"/><circle cx="1383.6" cy="242.1" r="5"/><circle cx="1384.2" cy="254.5" r="5"/><circle cx="1384.8" cy="247.3" r="5"/><circle cx="1385.3" cy="238.4" r="5"/><circle cx="1385.9" cy="230.8" r="5"/><circle cx="1386.5" cy="237.2" r="5"/><circle cx="1387.0" cy="244.3" r="5"/><circle cx="1387.6" cy="222.5" r="5"/><circle cx="1388.2" cy="234.2" r="5"/><circle cx="1388.8" cy="226.4" r="5"/><circle cx="1389.3" cy="249.1" r="5"/><circle cx="1389.9" cy="260.8" r="5"/><circle cx="1390.5" cy="255.6" r="5"/><circle cx="1391.1" cy="263.9" r="5"/><circle cx="1391.6" cy="277.7" r="5"/><circle cx="1392.2" cy="271.6" r="5"/><circle cx="1392.8" cy="259.1" r="5"/><circle cx="1393.3" cy="249.8" r="5"/><circle cx="1393.9" cy="227.7" r="5"/><circle cx="1394.5" cy="250.5" r="5"/><circle cx="1395.1" cy="248.4" r="5"/><circle cx="1395.6" cy="256.4" r="5"/><circle cx="1396.2" cy="252.8" r="5"/><circle cx="1396.8" cy="235.3" r="5"/><circle cx="1397.4" cy="240.7" r="5"/><circle cx="1397.9" cy="243.2" r="5"/><circle cx="1398.5" cy="252.0" r="5"/><circle cx="1399.1" cy="252.1" r="5"/><circle cx="1399.6" cy="240.3" r="5"/><circle cx="1400.2" cy="237.3" r="5"/><circle cx="1400.8" cy="256.2" r="5"/><circle cx="1401.4" cy="222.4" r="5"/><circle cx="1401.9" cy="218.6" r="5"/><circle cx="1402.5" cy="233.9" r="5"/><circle cx="1403.1" cy="229.3" r="5"/><circle cx="1403.7" cy="232.7" r="5"/><circle cx="1404.2" cy="233.1" r="5"/><circle cx="1404.8" cy="255.3" r="5"/><circle cx="1405.4" cy="226.4" r="5"/><circle cx="1405.9" cy="236.7" r="5"/><circle cx="1406.5" cy="226.5" r="5"/><circle cx="1407.1" cy="249.4" r="5"/><circle cx="1407.7" cy="237.9" r="5"/><circle cx="1408.2" cy="254.1" r="5"/><circle cx="1408.8" cy="275.9" r="5"/><circle cx="1409.4" cy="274.5" r="5"/><circle cx="1410.0" cy="268.1" r="5"/><circle cx="1410.5" cy="235.0" r="5"/><circle cx="1411.1" cy="272.1" r="5"/><circle cx="1411.7" cy="260.4" r="5"/><circle cx="1412.2" cy="271.3" r="5"/><circle cx="1412.8" cy="247.9" r="5"/><circle cx="1413.4" cy="243.4" r="5"/><circle cx="1414.0" cy="259.0" r="5"/><circle cx="1414.5" cy="229.3" r="5"/><circle cx="1415.1" cy="222.2" r="5"/><circle cx="1415.7" cy="246.2" r="5"/><circle cx="1416.3" cy="257.4" r="5"/><circle cx="1416.8" cy="226.5" r="5"/><circle cx="1417.4" cy="254.9" r="5"/><circle cx="1418.0" cy="238.3" r="5"/><circle cx="1418.5" cy="267.0" r="5"/><circle cx="1419.1" cy="271.7" r="5"/><circle cx="1419.7" cy="248.3" r="5"/><circle cx="1420.3" cy="243.6" r="5"/><circle cx="1420.8" cy="243.2" r="5"/><circle cx="1421.4" cy="245.1" r="5"/><circle cx="1422.0" cy="243.4" r="5"/><circle cx="1422.6" cy="237.4" r="5"/><circle cx="1423.1" cy="226.8" r="5"/><circle cx="1423.7" cy="223.8" r="5"/><circle cx="1424.3" cy="226.6" r="5"/><circle cx="1424.9" cy="224.4" r="5"/><circle cx="1425.4" cy="234.2" r="5"/><circle cx="1426.0" cy="226.7" r="5"/><circle cx="1426.6" cy="243.7" r="5"/><circle cx="1427.1" cy="255.3" r="5"/><circle cx="1427.7" cy="224.7" r="5"/><circle cx="1428.3" cy="215.3" r="5"/><circle cx="1428.9" cy="248.1" r="5"/><circle cx="1429.4" cy="223.7" r="5"/><circle cx="1430.0" cy="230.7" r="5"/><circle cx="1430.6" cy="241.9" r="5"/><circle cx="1431.2" cy="233.9" r="5"/><circle cx="1431.7" cy="234.5" r="5"/><circle cx="1432.3" cy="231.4" r="5"/><circle cx="1432.9" cy="233.7" r="5"/><circle cx="1433.4" cy="232.4" r="5"/><circle cx="1434.0" cy="241.9" r="5"/><circle cx="1434.6" cy="261.0" r="5"/><circle cx="1435.2" cy="249.8" r="5"/><circle cx="1435.7" cy="276.1" r="5"/><circle cx="1436.3" cy="268.1" r="5"/><circle cx="1436.9" cy="253.8" r="5"/><circle cx="1437.5" cy="260.0" r="5"/><circle cx="1438.0" cy="264.2" r="5"/><circle cx="1438.6" cy="268.5" r="5"/><circle cx="1439.2" cy="264.3" r="5"/><circle cx="1439.7" cy="267.7" r="5"/><circle cx="1440.3" cy="244.7" r="5"/><circle cx="1440.9" cy="242.7" r="5"/><circle cx="1441.5" cy="241.5" r="5"/><circle cx="1442.0" cy="240.5" r="5"/><circle cx="1442.6" cy="257.0" r="5"/><circle cx="1443.2" cy="274.5" r="5"/><circle cx="1443.8" cy="257.0" r="5"/><circle cx="1444.3" cy="233.3" r="5"/><circle cx="1444.9" cy="230.7" r="5"/><circle cx="1445.5" cy="245.5" r="5"/><circle cx="1446.0" cy="238.6" r="5"/><circle cx="1446.6" cy="225.7" r="5"/><circle cx="1447.2" cy="214.6" r="5"/><circle cx="1447.8" cy="220.4" r="5"/><circle cx="1448.3" cy="241.7" r="5"/><circle cx="1448.9" cy="225.9" r="5"/><circle cx="1449.5" cy="238.0" r="5"/><circle cx="1450.1" cy="229.4" r="5"/><circle cx="1450.6" cy="232.4" r="5"/><circle cx="1451.2" cy="227.9" r="5"/><circle cx="1451.8" cy="232.0" r="5"/><circle cx="1452.3" cy="255.9" r="5"/><circle cx="1452.9" cy="231.6" r="5"/><circle cx="1453.5" cy="225.6" r="5"/><circle cx="1454.1" cy="228.5" r="5"/><circle cx="1454.6" cy="249.8" r="5"/><circle cx="1455.2" cy="256.5" r="5"/><circle cx="1455.8" cy="242.0" r="5"/><circle cx="1456.4" cy="245.6" r="5"/><circle cx="1456.9" cy="233.6" r="5"/><circle cx="1457.5" cy="232.7" r="5"/><circle cx="1458.1" cy="226.2" r="5"/><circle cx="1458.6" cy="235.8" r="5"/><circle cx="1459.2" cy="229.4" r="5"/><circle cx="1459.8" cy="267.1" r="5"/><circle cx="1460.4" cy="245.2" r="5"/><circle cx="1460.9" cy="238.9" r="5"/><circle cx="1461.5" cy="228.7" r="5"/><circle cx="1462.1" cy="235.0" r="5"/><circle cx="1462.7" cy="259.5" r="5"/><circle cx="1463.2" cy="238.1" r="5"/><circle cx="1463.8" cy="245.7" r="5"/><circle cx="1464.4" cy="262.2" r="5"/><circle cx="1464.9" cy="247.5" r="5"/><circle cx="1465.5" cy="231.5" r="5"/><circle cx="1466.1" cy="233.1" r="5"/><circle cx="1466.7" cy="249.2" r="5"/><circle cx="1467.2" cy="258.7" r="5"/><circle cx="1467.8" cy="254.9" r="5"/><circle cx="1468.4" cy="267.1" r="5"/><circle cx="1469.0" cy="237.7" r="5"/><circle cx="1469.5" cy="260.4" r="5"/><circle cx="1470.1" cy="262.9" r="5"/><circle cx="1470.7" cy="269.7" r="5"/><circle cx="1471.2" cy="249.4" r="5"/><circle cx="1471.8" cy="253.6" r="5"/><circle cx="1472.4" cy="254.0" r="5"/><circle cx="1473.0" cy="256.4" r="5"/><circle cx="1473.5" cy="239.0" r="5"/><circle cx="1474.1" cy="230.3" r="5"/><circle cx="1474.7" cy="229.2" r="5"/><circle cx="1475.3" cy="216.2" r="5"/><circle cx="1475.8" cy="218.7" r="5"/><circle cx="1476.4" cy="250.3" r="5"/><circle cx="1477.0" cy="216.7" r="5"/><circle cx="1477.5" cy="216.8" r="5"/><circle cx="1478.1" cy="222.1" r="5"/><circle cx="1478.7" cy="213.7" r="5"/><circle cx="1479.3" cy="220.6" r="5"/><circle cx="1479.8" cy="218.6" r="5"/><circle cx="1480.4" cy="243.3" r="5"/><circle cx="1481.0" cy="217.8" r="5"/><circle cx="1481.6" cy="227.4" r="5"/><circle cx="1482.1" cy="227.7" r="5"/><circle cx="1482.7" cy="230.1" r="5"/><circle cx="1483.3" cy="234.1" r="5"/><circle cx="1483.8" cy="253.6" r="5"/><circle cx="1484.4" cy="248.9" r="5"/><circle cx="1485.0" cy="269.1" r="5"/><circle cx="1485.6" cy="240.5" r="5"/><circle cx="1486.1" cy="274.4" r="5"/><circle cx="1486.7" cy="271.5" r="5"/><circle cx="1487.3" cy="256.6" r="5"/><circle cx="1487.9" cy="239.0" r="5"/><circle cx="1488.4" cy="263.0" r="5"/><circle cx="1489.0" cy="252.5" r="5"/><circle cx="859.3" cy="284.9" r="5"/><circle cx="859.3" cy="312.9" r="5"/><circle cx="859.3" cy="328.7" r="5"/><circle cx="860.2" cy="354.1" r="5"/><circle cx="860.9" cy="399.5" r="5"/><circle cx="862.5" cy="470.0" r="5"/><circle cx="878.0" cy="470.0" r="5"/><circle cx="878.0" cy="460.5" r="5"/><circle cx="1420.0" cy="273.0" r="5"/><circle cx="1421.0" cy="281.0" r="5"/><circle cx="1420.0" cy="289.0" r="5"/><circle cx="1419.0" cy="297.0" r="5"/><circle cx="1421.0" cy="303.0" r="5"/><circle cx="1423.0" cy="300.0" r="5"/><circle cx="1420.0" cy="301.0" r="5"/><circle cx="1422.0" cy="277.0" r="5"/><circle cx="1341.0" cy="193.0" r="5"/><circle cx="1343.0" cy="199.0" r="5"/><circle cx="1340.0" cy="205.0" r="5"/><circle cx="1344.0" cy="211.0" r="5"/><circle cx="1338.0" cy="200.0" r="5"/><circle cx="998.0" cy="196.0" r="5"/><circle cx="997.0" cy="204.0" r="5"/><circle cx="999.0" cy="212.0" r="5"/><circle cx="998.0" cy="220.0" r="5"/><circle cx="996.0" cy="226.0" r="5"/><circle cx="1001.0" cy="208.0" r="5"/><circle cx="976.0" cy="190.0" r="5"/><circle cx="978.0" cy="196.0" r="5"/><circle cx="975.0" cy="201.0" r="5"/><circle cx="1430.5" cy="207.0" r="5"/><circle cx="1430.9" cy="207.3" r="5"/><circle cx="1430.2" cy="206.6" r="5"/><circle cx="989.0" cy="101.0" r="5"/><circle cx="1027.0" cy="101.0" r="5"/><circle cx="966.0" cy="112.0" r="5"/><circle cx="980.0" cy="117.0" r="5"/><circle cx="1013.0" cy="115.0" r="5"/></g>
<polyline fill="none" stroke="#ee0808" stroke-width="5.8" stroke-linejoin="round" stroke-linecap="butt" points="861.8,433.6 875.0,434.6 892.8,435.9 904.8,430.6 923.0,426.8 933.5,417.8 938.8,402.7 941.1,380.0 942.5,340.0 944.0,299.0 946.5,262.0 949.3,231.0 951.5,208.3 953.8,185.6 959.4,174.3 966.2,163.0 971.9,154.3 978.7,152.8 986.6,157.3 994.6,159.6 1002.5,153.4 1009.3,157.3 1020.6,158.4 1031.9,158.9 1038.7,161.8 1045.5,170.9 1056.8,175.4 1065.9,179.9 1075.0,187.9 1084.0,190.1 1092.0,187.9 1102.1,194.7 1112.1,202.5 1124.2,213.1 1136.3,217.6 1148.3,220.6 1160.4,217.6 1169.5,223.7 1178.5,223.0 1190.6,228.2 1202.7,228.2 1214.8,232.7 1220.8,234.2 1229.9,227.3 1242.0,226.7 1254.1,228.2 1266.2,231.2 1278.2,237.3 1287.3,240.3 1300.0,237.8 1309.0,237.9 1321.7,236.3 1329.7,233.1 1337.6,234.7 1343.9,241.0 1353.5,241.7 1358.2,238.8 1366.1,241.7 1382.0,237.9 1397.9,241.7 1413.7,244.2 1420.1,241.7 1429.6,243.6 1445.5,241.0 1461.3,240.4 1480.4,241.0 1488.3,241.0"/>
<circle cx="1025.4" cy="346.4" r="5.3" fill="none" stroke="#000" stroke-width="1.1"/><rect x="998.7" y="410.8" width="54" height="5.8" fill="#ee0808"/><text x="1056.42" y="360.2" font-size="48.5" fill="#000" font-family="Liberation Sans" font-weight="bold" textLength="96.41" lengthAdjust="spacingAndGlyphs">Raw</text><text x="1166.79" y="360.2" font-size="48.5" fill="#000" font-family="Liberation Sans" font-weight="bold" textLength="98.23" lengthAdjust="spacingAndGlyphs">data</text><text x="1056.75" y="427.2" font-size="48.5" fill="#000" font-family="Liberation Sans" font-weight="bold" textLength="173.10" lengthAdjust="spacingAndGlyphs">Filtered</text><text x="1242.78" y="427.2" font-size="48.5" fill="#000" font-family="Liberation Sans" font-weight="bold" textLength="102.80" lengthAdjust="spacingAndGlyphs">Data</text>
</svg>
</body></html>
